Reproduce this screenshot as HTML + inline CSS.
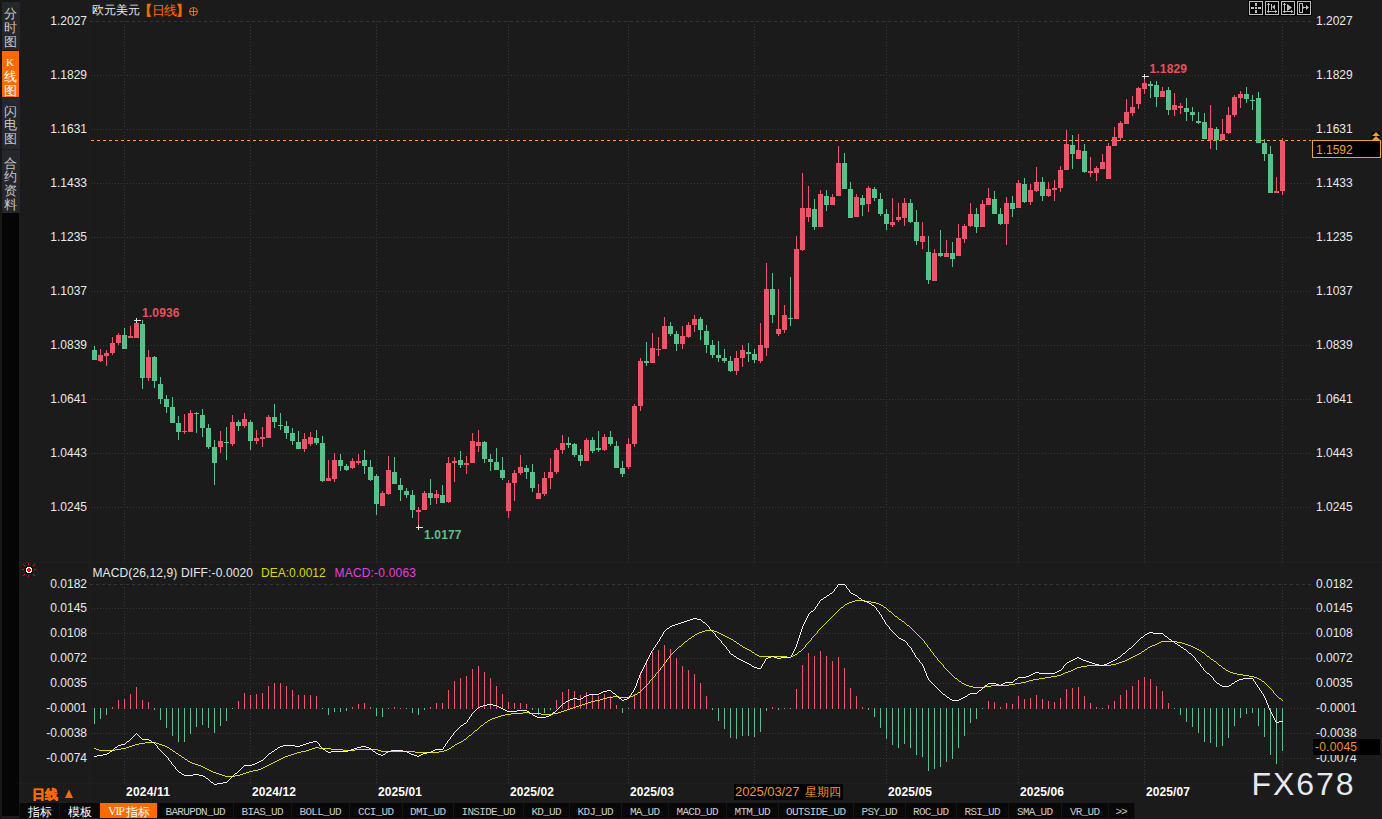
<!DOCTYPE html>
<html><head><meta charset="utf-8"><style>
html,body{margin:0;padding:0;background:#1b1b1b;width:1382px;height:819px;overflow:hidden;}
svg{position:absolute;left:0;top:0;}
text{font-family:"Liberation Sans", sans-serif;}
</style></head><body>
<svg width="1382" height="819" viewBox="0 0 1382 819">
<rect x="0" y="0" width="1382" height="819" fill="#1b1b1b"/>

<g shape-rendering="crispEdges">
<rect x="0" y="0" width="2" height="819" fill="#171717"/>
<rect x="0" y="0" width="20" height="2" fill="#171717"/>
<rect x="2" y="213" width="17" height="603" fill="#050505"/>
<rect x="2" y="2" width="18" height="48" fill="#25272b"/>
<rect x="2" y="51" width="17" height="46" fill="#ff6a00"/>
<rect x="2" y="98" width="18" height="51" fill="#25272b"/>
<rect x="2" y="150" width="18" height="63" fill="#25272b"/>
<rect x="2" y="50" width="18" height="1" fill="#141414"/>
</g>
<text x="10.5" y="17.5" font-size="13" fill="#c8c8c8" text-anchor="middle">分</text><text x="10.5" y="31.5" font-size="13" fill="#c8c8c8" text-anchor="middle">时</text><text x="10.5" y="45.5" font-size="13" fill="#c8c8c8" text-anchor="middle">图</text>
<text x="10" y="66" font-size="11" fill="#ffffff" text-anchor="middle" style="font-family:'Liberation Serif',serif">K</text>
<text x="10.5" y="80.5" font-size="13" fill="#ffffff" text-anchor="middle">线</text><text x="10.5" y="94.5" font-size="13" fill="#ffffff" text-anchor="middle">图</text>
<text x="10.5" y="115.5" font-size="13" fill="#c8c8c8" text-anchor="middle">闪</text><text x="10.5" y="129.0" font-size="13" fill="#c8c8c8" text-anchor="middle">电</text><text x="10.5" y="143.0" font-size="13" fill="#c8c8c8" text-anchor="middle">图</text>
<text x="10.5" y="167.5" font-size="13" fill="#c8c8c8" text-anchor="middle">合</text><text x="10.5" y="181.0" font-size="13" fill="#c8c8c8" text-anchor="middle">约</text><text x="10.5" y="195.0" font-size="13" fill="#c8c8c8" text-anchor="middle">资</text><text x="10.5" y="209.0" font-size="13" fill="#c8c8c8" text-anchor="middle">料</text>
<g shape-rendering="crispEdges">
<rect x="89" y="0" width="1" height="803" fill="#1f1f1f"/>
<rect x="19" y="562" width="1363" height="1" fill="#1f1f1f"/>
<rect x="19" y="783" width="1293" height="1" fill="#1f1f1f"/>
<line x1="90" y1="21.5" x2="1311" y2="21.5" stroke="#363636" stroke-width="1" stroke-dasharray="3 3"/>
<line x1="91" y1="75.5" x2="1311" y2="75.5" stroke="#363636" stroke-width="1" stroke-dasharray="1 2"/>
<line x1="91" y1="129.5" x2="1311" y2="129.5" stroke="#363636" stroke-width="1" stroke-dasharray="1 2"/>
<line x1="91" y1="183.5" x2="1311" y2="183.5" stroke="#363636" stroke-width="1" stroke-dasharray="1 2"/>
<line x1="91" y1="237.5" x2="1311" y2="237.5" stroke="#363636" stroke-width="1" stroke-dasharray="1 2"/>
<line x1="91" y1="291.5" x2="1311" y2="291.5" stroke="#363636" stroke-width="1" stroke-dasharray="1 2"/>
<line x1="91" y1="345.5" x2="1311" y2="345.5" stroke="#363636" stroke-width="1" stroke-dasharray="1 2"/>
<line x1="91" y1="399.5" x2="1311" y2="399.5" stroke="#363636" stroke-width="1" stroke-dasharray="1 2"/>
<line x1="91" y1="453.5" x2="1311" y2="453.5" stroke="#363636" stroke-width="1" stroke-dasharray="1 2"/>
<line x1="91" y1="507.5" x2="1311" y2="507.5" stroke="#363636" stroke-width="1" stroke-dasharray="1 2"/>
<line x1="90" y1="584.5" x2="1311" y2="584.5" stroke="#363636" stroke-width="1" stroke-dasharray="3 3"/>
<line x1="91" y1="608.5" x2="1311" y2="608.5" stroke="#363636" stroke-width="1" stroke-dasharray="1 2"/>
<line x1="91" y1="633.5" x2="1311" y2="633.5" stroke="#363636" stroke-width="1" stroke-dasharray="1 2"/>
<line x1="91" y1="658.5" x2="1311" y2="658.5" stroke="#363636" stroke-width="1" stroke-dasharray="1 2"/>
<line x1="91" y1="683.5" x2="1311" y2="683.5" stroke="#363636" stroke-width="1" stroke-dasharray="1 2"/>
<line x1="91" y1="708.5" x2="1311" y2="708.5" stroke="#363636" stroke-width="1" stroke-dasharray="1 2"/>
<line x1="91" y1="733.5" x2="1311" y2="733.5" stroke="#363636" stroke-width="1" stroke-dasharray="1 2"/>
<line x1="91" y1="758.5" x2="1311" y2="758.5" stroke="#363636" stroke-width="1" stroke-dasharray="1 2"/>
<line x1="124.5" y1="21" x2="124.5" y2="562" stroke="#363636" stroke-width="1" stroke-dasharray="1 2"/>
<line x1="124.5" y1="584" x2="124.5" y2="783" stroke="#363636" stroke-width="1" stroke-dasharray="1 2"/>
<line x1="250.5" y1="21" x2="250.5" y2="562" stroke="#363636" stroke-width="1" stroke-dasharray="1 2"/>
<line x1="250.5" y1="584" x2="250.5" y2="783" stroke="#363636" stroke-width="1" stroke-dasharray="1 2"/>
<line x1="376.5" y1="21" x2="376.5" y2="562" stroke="#363636" stroke-width="1" stroke-dasharray="1 2"/>
<line x1="376.5" y1="584" x2="376.5" y2="783" stroke="#363636" stroke-width="1" stroke-dasharray="1 2"/>
<line x1="508.5" y1="21" x2="508.5" y2="562" stroke="#363636" stroke-width="1" stroke-dasharray="1 2"/>
<line x1="508.5" y1="584" x2="508.5" y2="783" stroke="#363636" stroke-width="1" stroke-dasharray="1 2"/>
<line x1="628.5" y1="21" x2="628.5" y2="562" stroke="#363636" stroke-width="1" stroke-dasharray="1 2"/>
<line x1="628.5" y1="584" x2="628.5" y2="783" stroke="#363636" stroke-width="1" stroke-dasharray="1 2"/>
<line x1="754.5" y1="21" x2="754.5" y2="562" stroke="#363636" stroke-width="1" stroke-dasharray="1 2"/>
<line x1="754.5" y1="584" x2="754.5" y2="783" stroke="#363636" stroke-width="1" stroke-dasharray="1 2"/>
<line x1="886.5" y1="21" x2="886.5" y2="562" stroke="#363636" stroke-width="1" stroke-dasharray="1 2"/>
<line x1="886.5" y1="584" x2="886.5" y2="783" stroke="#363636" stroke-width="1" stroke-dasharray="1 2"/>
<line x1="1018.5" y1="21" x2="1018.5" y2="562" stroke="#363636" stroke-width="1" stroke-dasharray="1 2"/>
<line x1="1018.5" y1="584" x2="1018.5" y2="783" stroke="#363636" stroke-width="1" stroke-dasharray="1 2"/>
<line x1="1144.5" y1="21" x2="1144.5" y2="562" stroke="#363636" stroke-width="1" stroke-dasharray="1 2"/>
<line x1="1144.5" y1="584" x2="1144.5" y2="783" stroke="#363636" stroke-width="1" stroke-dasharray="1 2"/>
<line x1="1282.5" y1="21" x2="1282.5" y2="562" stroke="#363636" stroke-width="1" stroke-dasharray="1 2"/>
<line x1="1282.5" y1="584" x2="1282.5" y2="783" stroke="#363636" stroke-width="1" stroke-dasharray="1 2"/>
</g>
<line x1="91" y1="140.5" x2="1311" y2="140.5" stroke="#f0a030" stroke-width="1" stroke-dasharray="3 3" shape-rendering="crispEdges"/>
<g shape-rendering="crispEdges">
<rect x="94" y="346" width="1" height="14" fill="#5bbf8c"/>
<rect x="92" y="350" width="5" height="10" fill="#5bbf8c"/>
<rect x="100" y="349" width="1" height="13" fill="#ec5468"/>
<rect x="98" y="355" width="5" height="6" fill="#ec5468"/>
<rect x="106" y="350" width="1" height="16" fill="#ec5468"/>
<rect x="104" y="353" width="5" height="3" fill="#ec5468"/>
<rect x="112" y="337" width="1" height="18" fill="#ec5468"/>
<rect x="110" y="343" width="5" height="10" fill="#ec5468"/>
<rect x="118" y="333" width="1" height="12" fill="#ec5468"/>
<rect x="116" y="335" width="5" height="8" fill="#ec5468"/>
<rect x="124" y="328" width="1" height="21" fill="#5bbf8c"/>
<rect x="122" y="335" width="5" height="14" fill="#5bbf8c"/>
<rect x="130" y="326" width="1" height="12" fill="#ec5468"/>
<rect x="128" y="336" width="5" height="2" fill="#ec5468"/>
<rect x="136" y="322" width="1" height="16" fill="#ec5468"/>
<rect x="134" y="323" width="5" height="15" fill="#ec5468"/>
<rect x="142" y="320" width="1" height="69" fill="#5bbf8c"/>
<rect x="140" y="324" width="5" height="54" fill="#5bbf8c"/>
<rect x="148" y="350" width="1" height="31" fill="#ec5468"/>
<rect x="146" y="357" width="5" height="21" fill="#ec5468"/>
<rect x="154" y="356" width="1" height="32" fill="#5bbf8c"/>
<rect x="152" y="357" width="5" height="24" fill="#5bbf8c"/>
<rect x="160" y="377" width="1" height="27" fill="#5bbf8c"/>
<rect x="158" y="384" width="5" height="15" fill="#5bbf8c"/>
<rect x="166" y="395" width="1" height="18" fill="#5bbf8c"/>
<rect x="164" y="399" width="5" height="8" fill="#5bbf8c"/>
<rect x="172" y="397" width="1" height="26" fill="#5bbf8c"/>
<rect x="170" y="407" width="5" height="16" fill="#5bbf8c"/>
<rect x="178" y="416" width="1" height="24" fill="#5bbf8c"/>
<rect x="176" y="423" width="5" height="9" fill="#5bbf8c"/>
<rect x="184" y="414" width="1" height="20" fill="#ec5468"/>
<rect x="182" y="431" width="5" height="1" fill="#ec5468"/>
<rect x="190" y="410" width="1" height="22" fill="#ec5468"/>
<rect x="188" y="413" width="5" height="19" fill="#ec5468"/>
<rect x="196" y="412" width="1" height="21" fill="#5bbf8c"/>
<rect x="194" y="413" width="5" height="1" fill="#5bbf8c"/>
<rect x="202" y="409" width="1" height="28" fill="#5bbf8c"/>
<rect x="200" y="415" width="5" height="13" fill="#5bbf8c"/>
<rect x="208" y="424" width="1" height="25" fill="#5bbf8c"/>
<rect x="206" y="428" width="5" height="19" fill="#5bbf8c"/>
<rect x="214" y="440" width="1" height="45" fill="#5bbf8c"/>
<rect x="212" y="447" width="5" height="16" fill="#5bbf8c"/>
<rect x="220" y="431" width="1" height="22" fill="#ec5468"/>
<rect x="218" y="441" width="5" height="6" fill="#ec5468"/>
<rect x="226" y="427" width="1" height="33" fill="#5bbf8c"/>
<rect x="224" y="442" width="5" height="1" fill="#5bbf8c"/>
<rect x="232" y="415" width="1" height="31" fill="#ec5468"/>
<rect x="230" y="422" width="5" height="22" fill="#ec5468"/>
<rect x="238" y="420" width="1" height="11" fill="#5bbf8c"/>
<rect x="236" y="422" width="5" height="4" fill="#5bbf8c"/>
<rect x="244" y="413" width="1" height="15" fill="#ec5468"/>
<rect x="242" y="419" width="5" height="7" fill="#ec5468"/>
<rect x="250" y="420" width="1" height="30" fill="#5bbf8c"/>
<rect x="248" y="422" width="5" height="19" fill="#5bbf8c"/>
<rect x="256" y="430" width="1" height="14" fill="#ec5468"/>
<rect x="254" y="438" width="5" height="3" fill="#ec5468"/>
<rect x="262" y="427" width="1" height="20" fill="#ec5468"/>
<rect x="260" y="437" width="5" height="2" fill="#ec5468"/>
<rect x="268" y="415" width="1" height="23" fill="#ec5468"/>
<rect x="266" y="417" width="5" height="21" fill="#ec5468"/>
<rect x="274" y="404" width="1" height="24" fill="#5bbf8c"/>
<rect x="272" y="417" width="5" height="5" fill="#5bbf8c"/>
<rect x="280" y="413" width="1" height="17" fill="#5bbf8c"/>
<rect x="278" y="425" width="5" height="1" fill="#5bbf8c"/>
<rect x="286" y="421" width="1" height="18" fill="#5bbf8c"/>
<rect x="284" y="426" width="5" height="7" fill="#5bbf8c"/>
<rect x="292" y="428" width="1" height="17" fill="#5bbf8c"/>
<rect x="290" y="433" width="5" height="8" fill="#5bbf8c"/>
<rect x="298" y="431" width="1" height="18" fill="#5bbf8c"/>
<rect x="296" y="442" width="5" height="7" fill="#5bbf8c"/>
<rect x="304" y="433" width="1" height="19" fill="#ec5468"/>
<rect x="302" y="439" width="5" height="10" fill="#ec5468"/>
<rect x="310" y="432" width="1" height="14" fill="#ec5468"/>
<rect x="308" y="437" width="5" height="7" fill="#ec5468"/>
<rect x="316" y="430" width="1" height="15" fill="#5bbf8c"/>
<rect x="314" y="438" width="5" height="5" fill="#5bbf8c"/>
<rect x="322" y="436" width="1" height="46" fill="#5bbf8c"/>
<rect x="320" y="443" width="5" height="38" fill="#5bbf8c"/>
<rect x="328" y="460" width="1" height="21" fill="#ec5468"/>
<rect x="326" y="478" width="5" height="3" fill="#ec5468"/>
<rect x="334" y="453" width="1" height="29" fill="#ec5468"/>
<rect x="332" y="460" width="5" height="19" fill="#ec5468"/>
<rect x="340" y="454" width="1" height="17" fill="#5bbf8c"/>
<rect x="338" y="460" width="5" height="6" fill="#5bbf8c"/>
<rect x="346" y="464" width="1" height="7" fill="#5bbf8c"/>
<rect x="344" y="466" width="5" height="4" fill="#5bbf8c"/>
<rect x="352" y="458" width="1" height="11" fill="#ec5468"/>
<rect x="350" y="461" width="5" height="7" fill="#ec5468"/>
<rect x="358" y="454" width="1" height="11" fill="#ec5468"/>
<rect x="356" y="461" width="5" height="2" fill="#ec5468"/>
<rect x="364" y="450" width="1" height="24" fill="#5bbf8c"/>
<rect x="362" y="460" width="5" height="6" fill="#5bbf8c"/>
<rect x="370" y="460" width="1" height="21" fill="#5bbf8c"/>
<rect x="368" y="467" width="5" height="13" fill="#5bbf8c"/>
<rect x="376" y="474" width="1" height="41" fill="#5bbf8c"/>
<rect x="374" y="476" width="5" height="28" fill="#5bbf8c"/>
<rect x="382" y="491" width="1" height="15" fill="#ec5468"/>
<rect x="380" y="493" width="5" height="13" fill="#ec5468"/>
<rect x="388" y="456" width="1" height="39" fill="#ec5468"/>
<rect x="386" y="470" width="5" height="24" fill="#ec5468"/>
<rect x="394" y="457" width="1" height="27" fill="#5bbf8c"/>
<rect x="392" y="472" width="5" height="12" fill="#5bbf8c"/>
<rect x="400" y="478" width="1" height="23" fill="#5bbf8c"/>
<rect x="398" y="485" width="5" height="5" fill="#5bbf8c"/>
<rect x="406" y="488" width="1" height="10" fill="#5bbf8c"/>
<rect x="404" y="491" width="5" height="4" fill="#5bbf8c"/>
<rect x="412" y="490" width="1" height="28" fill="#5bbf8c"/>
<rect x="410" y="495" width="5" height="15" fill="#5bbf8c"/>
<rect x="418" y="507" width="1" height="20" fill="#ec5468"/>
<rect x="416" y="510" width="5" height="2" fill="#ec5468"/>
<rect x="424" y="491" width="1" height="19" fill="#ec5468"/>
<rect x="422" y="493" width="5" height="17" fill="#ec5468"/>
<rect x="430" y="479" width="1" height="26" fill="#5bbf8c"/>
<rect x="428" y="493" width="5" height="5" fill="#5bbf8c"/>
<rect x="436" y="490" width="1" height="14" fill="#ec5468"/>
<rect x="434" y="494" width="5" height="4" fill="#ec5468"/>
<rect x="442" y="485" width="1" height="18" fill="#5bbf8c"/>
<rect x="440" y="495" width="5" height="8" fill="#5bbf8c"/>
<rect x="448" y="457" width="1" height="46" fill="#ec5468"/>
<rect x="446" y="463" width="5" height="39" fill="#ec5468"/>
<rect x="454" y="457" width="1" height="25" fill="#ec5468"/>
<rect x="452" y="461" width="5" height="2" fill="#ec5468"/>
<rect x="460" y="451" width="1" height="17" fill="#5bbf8c"/>
<rect x="458" y="460" width="5" height="5" fill="#5bbf8c"/>
<rect x="466" y="456" width="1" height="18" fill="#ec5468"/>
<rect x="464" y="463" width="5" height="2" fill="#ec5468"/>
<rect x="472" y="433" width="1" height="30" fill="#ec5468"/>
<rect x="470" y="441" width="5" height="22" fill="#ec5468"/>
<rect x="478" y="430" width="1" height="22" fill="#ec5468"/>
<rect x="476" y="442" width="5" height="4" fill="#ec5468"/>
<rect x="484" y="441" width="1" height="22" fill="#5bbf8c"/>
<rect x="482" y="442" width="5" height="17" fill="#5bbf8c"/>
<rect x="490" y="454" width="1" height="17" fill="#5bbf8c"/>
<rect x="488" y="459" width="5" height="3" fill="#5bbf8c"/>
<rect x="496" y="448" width="1" height="22" fill="#5bbf8c"/>
<rect x="494" y="462" width="5" height="8" fill="#5bbf8c"/>
<rect x="502" y="457" width="1" height="23" fill="#5bbf8c"/>
<rect x="500" y="470" width="5" height="8" fill="#5bbf8c"/>
<rect x="508" y="480" width="1" height="38" fill="#ec5468"/>
<rect x="506" y="483" width="5" height="28" fill="#ec5468"/>
<rect x="514" y="470" width="1" height="31" fill="#ec5468"/>
<rect x="512" y="473" width="5" height="10" fill="#ec5468"/>
<rect x="520" y="455" width="1" height="20" fill="#ec5468"/>
<rect x="518" y="467" width="5" height="6" fill="#ec5468"/>
<rect x="526" y="465" width="1" height="14" fill="#5bbf8c"/>
<rect x="524" y="468" width="5" height="4" fill="#5bbf8c"/>
<rect x="532" y="464" width="1" height="28" fill="#5bbf8c"/>
<rect x="530" y="472" width="5" height="16" fill="#5bbf8c"/>
<rect x="538" y="484" width="1" height="15" fill="#ec5468"/>
<rect x="536" y="493" width="5" height="6" fill="#ec5468"/>
<rect x="544" y="472" width="1" height="24" fill="#ec5468"/>
<rect x="542" y="478" width="5" height="16" fill="#ec5468"/>
<rect x="550" y="458" width="1" height="31" fill="#ec5468"/>
<rect x="548" y="472" width="5" height="6" fill="#ec5468"/>
<rect x="556" y="448" width="1" height="26" fill="#ec5468"/>
<rect x="554" y="450" width="5" height="22" fill="#ec5468"/>
<rect x="562" y="435" width="1" height="19" fill="#ec5468"/>
<rect x="560" y="443" width="5" height="7" fill="#ec5468"/>
<rect x="568" y="437" width="1" height="11" fill="#5bbf8c"/>
<rect x="566" y="443" width="5" height="2" fill="#5bbf8c"/>
<rect x="574" y="443" width="1" height="14" fill="#5bbf8c"/>
<rect x="572" y="444" width="5" height="11" fill="#5bbf8c"/>
<rect x="580" y="449" width="1" height="17" fill="#5bbf8c"/>
<rect x="578" y="455" width="5" height="6" fill="#5bbf8c"/>
<rect x="586" y="438" width="1" height="23" fill="#ec5468"/>
<rect x="584" y="440" width="5" height="21" fill="#ec5468"/>
<rect x="592" y="437" width="1" height="16" fill="#5bbf8c"/>
<rect x="590" y="440" width="5" height="11" fill="#5bbf8c"/>
<rect x="598" y="431" width="1" height="21" fill="#5bbf8c"/>
<rect x="596" y="448" width="5" height="2" fill="#5bbf8c"/>
<rect x="604" y="434" width="1" height="17" fill="#ec5468"/>
<rect x="602" y="437" width="5" height="13" fill="#ec5468"/>
<rect x="610" y="431" width="1" height="15" fill="#5bbf8c"/>
<rect x="608" y="437" width="5" height="7" fill="#5bbf8c"/>
<rect x="616" y="441" width="1" height="27" fill="#5bbf8c"/>
<rect x="614" y="446" width="5" height="22" fill="#5bbf8c"/>
<rect x="622" y="461" width="1" height="16" fill="#5bbf8c"/>
<rect x="620" y="468" width="5" height="6" fill="#5bbf8c"/>
<rect x="628" y="438" width="1" height="31" fill="#ec5468"/>
<rect x="626" y="444" width="5" height="23" fill="#ec5468"/>
<rect x="634" y="404" width="1" height="43" fill="#ec5468"/>
<rect x="632" y="406" width="5" height="38" fill="#ec5468"/>
<rect x="640" y="358" width="1" height="53" fill="#ec5468"/>
<rect x="638" y="361" width="5" height="45" fill="#ec5468"/>
<rect x="646" y="342" width="1" height="24" fill="#5bbf8c"/>
<rect x="644" y="361" width="5" height="2" fill="#5bbf8c"/>
<rect x="652" y="333" width="1" height="30" fill="#ec5468"/>
<rect x="650" y="348" width="5" height="15" fill="#ec5468"/>
<rect x="658" y="337" width="1" height="19" fill="#ec5468"/>
<rect x="656" y="349" width="5" height="1" fill="#ec5468"/>
<rect x="664" y="317" width="1" height="32" fill="#ec5468"/>
<rect x="662" y="326" width="5" height="23" fill="#ec5468"/>
<rect x="670" y="322" width="1" height="14" fill="#5bbf8c"/>
<rect x="668" y="326" width="5" height="8" fill="#5bbf8c"/>
<rect x="676" y="331" width="1" height="20" fill="#5bbf8c"/>
<rect x="674" y="334" width="5" height="10" fill="#5bbf8c"/>
<rect x="682" y="326" width="1" height="23" fill="#ec5468"/>
<rect x="680" y="336" width="5" height="8" fill="#ec5468"/>
<rect x="688" y="322" width="1" height="16" fill="#ec5468"/>
<rect x="686" y="325" width="5" height="12" fill="#ec5468"/>
<rect x="694" y="315" width="1" height="17" fill="#ec5468"/>
<rect x="692" y="319" width="5" height="6" fill="#ec5468"/>
<rect x="700" y="317" width="1" height="23" fill="#5bbf8c"/>
<rect x="698" y="319" width="5" height="11" fill="#5bbf8c"/>
<rect x="706" y="325" width="1" height="28" fill="#5bbf8c"/>
<rect x="704" y="331" width="5" height="14" fill="#5bbf8c"/>
<rect x="712" y="340" width="1" height="18" fill="#5bbf8c"/>
<rect x="710" y="345" width="5" height="10" fill="#5bbf8c"/>
<rect x="718" y="341" width="1" height="21" fill="#5bbf8c"/>
<rect x="716" y="355" width="5" height="3" fill="#5bbf8c"/>
<rect x="724" y="349" width="1" height="14" fill="#5bbf8c"/>
<rect x="722" y="358" width="5" height="3" fill="#5bbf8c"/>
<rect x="730" y="356" width="1" height="16" fill="#5bbf8c"/>
<rect x="728" y="361" width="5" height="10" fill="#5bbf8c"/>
<rect x="736" y="351" width="1" height="24" fill="#ec5468"/>
<rect x="734" y="358" width="5" height="13" fill="#ec5468"/>
<rect x="742" y="345" width="1" height="22" fill="#ec5468"/>
<rect x="740" y="350" width="5" height="8" fill="#ec5468"/>
<rect x="748" y="343" width="1" height="19" fill="#5bbf8c"/>
<rect x="746" y="352" width="5" height="2" fill="#5bbf8c"/>
<rect x="754" y="349" width="1" height="14" fill="#5bbf8c"/>
<rect x="752" y="354" width="5" height="6" fill="#5bbf8c"/>
<rect x="760" y="323" width="1" height="40" fill="#ec5468"/>
<rect x="758" y="345" width="5" height="16" fill="#ec5468"/>
<rect x="766" y="263" width="1" height="93" fill="#ec5468"/>
<rect x="764" y="289" width="5" height="59" fill="#ec5468"/>
<rect x="772" y="273" width="1" height="50" fill="#5bbf8c"/>
<rect x="770" y="289" width="5" height="26" fill="#5bbf8c"/>
<rect x="778" y="289" width="1" height="47" fill="#ec5468"/>
<rect x="776" y="329" width="5" height="5" fill="#ec5468"/>
<rect x="784" y="305" width="1" height="28" fill="#ec5468"/>
<rect x="782" y="315" width="5" height="15" fill="#ec5468"/>
<rect x="790" y="277" width="1" height="49" fill="#5bbf8c"/>
<rect x="788" y="318" width="5" height="1" fill="#5bbf8c"/>
<rect x="796" y="236" width="1" height="83" fill="#ec5468"/>
<rect x="794" y="249" width="5" height="70" fill="#ec5468"/>
<rect x="802" y="173" width="1" height="78" fill="#ec5468"/>
<rect x="800" y="208" width="5" height="42" fill="#ec5468"/>
<rect x="808" y="186" width="1" height="36" fill="#ec5468"/>
<rect x="806" y="208" width="5" height="9" fill="#ec5468"/>
<rect x="814" y="199" width="1" height="31" fill="#5bbf8c"/>
<rect x="812" y="209" width="5" height="18" fill="#5bbf8c"/>
<rect x="820" y="190" width="1" height="37" fill="#ec5468"/>
<rect x="818" y="194" width="5" height="33" fill="#ec5468"/>
<rect x="826" y="190" width="1" height="21" fill="#5bbf8c"/>
<rect x="824" y="196" width="5" height="9" fill="#5bbf8c"/>
<rect x="832" y="194" width="1" height="11" fill="#ec5468"/>
<rect x="830" y="197" width="5" height="8" fill="#ec5468"/>
<rect x="838" y="146" width="1" height="50" fill="#ec5468"/>
<rect x="836" y="163" width="5" height="33" fill="#ec5468"/>
<rect x="844" y="153" width="1" height="36" fill="#5bbf8c"/>
<rect x="842" y="163" width="5" height="26" fill="#5bbf8c"/>
<rect x="850" y="182" width="1" height="36" fill="#5bbf8c"/>
<rect x="848" y="189" width="5" height="29" fill="#5bbf8c"/>
<rect x="856" y="194" width="1" height="23" fill="#ec5468"/>
<rect x="854" y="197" width="5" height="20" fill="#ec5468"/>
<rect x="862" y="195" width="1" height="21" fill="#5bbf8c"/>
<rect x="860" y="198" width="5" height="7" fill="#5bbf8c"/>
<rect x="868" y="186" width="1" height="26" fill="#ec5468"/>
<rect x="866" y="188" width="5" height="16" fill="#ec5468"/>
<rect x="874" y="187" width="1" height="14" fill="#5bbf8c"/>
<rect x="872" y="189" width="5" height="9" fill="#5bbf8c"/>
<rect x="880" y="193" width="1" height="23" fill="#5bbf8c"/>
<rect x="878" y="199" width="5" height="15" fill="#5bbf8c"/>
<rect x="886" y="209" width="1" height="21" fill="#5bbf8c"/>
<rect x="884" y="214" width="5" height="10" fill="#5bbf8c"/>
<rect x="892" y="198" width="1" height="29" fill="#ec5468"/>
<rect x="890" y="222" width="5" height="3" fill="#ec5468"/>
<rect x="898" y="203" width="1" height="19" fill="#ec5468"/>
<rect x="896" y="217" width="5" height="3" fill="#ec5468"/>
<rect x="904" y="198" width="1" height="28" fill="#ec5468"/>
<rect x="902" y="203" width="5" height="15" fill="#ec5468"/>
<rect x="910" y="199" width="1" height="24" fill="#5bbf8c"/>
<rect x="908" y="203" width="5" height="19" fill="#5bbf8c"/>
<rect x="916" y="210" width="1" height="35" fill="#5bbf8c"/>
<rect x="914" y="222" width="5" height="19" fill="#5bbf8c"/>
<rect x="922" y="222" width="1" height="27" fill="#ec5468"/>
<rect x="920" y="236" width="5" height="6" fill="#ec5468"/>
<rect x="928" y="236" width="1" height="48" fill="#5bbf8c"/>
<rect x="926" y="252" width="5" height="28" fill="#5bbf8c"/>
<rect x="934" y="249" width="1" height="32" fill="#ec5468"/>
<rect x="932" y="253" width="5" height="28" fill="#ec5468"/>
<rect x="940" y="230" width="1" height="27" fill="#5bbf8c"/>
<rect x="938" y="253" width="5" height="3" fill="#5bbf8c"/>
<rect x="946" y="240" width="1" height="17" fill="#ec5468"/>
<rect x="944" y="253" width="5" height="4" fill="#ec5468"/>
<rect x="952" y="242" width="1" height="25" fill="#5bbf8c"/>
<rect x="950" y="253" width="5" height="6" fill="#5bbf8c"/>
<rect x="958" y="224" width="1" height="32" fill="#ec5468"/>
<rect x="956" y="238" width="5" height="18" fill="#ec5468"/>
<rect x="964" y="224" width="1" height="19" fill="#ec5468"/>
<rect x="962" y="226" width="5" height="13" fill="#ec5468"/>
<rect x="970" y="203" width="1" height="24" fill="#ec5468"/>
<rect x="968" y="214" width="5" height="12" fill="#ec5468"/>
<rect x="976" y="208" width="1" height="25" fill="#5bbf8c"/>
<rect x="974" y="214" width="5" height="13" fill="#5bbf8c"/>
<rect x="982" y="200" width="1" height="27" fill="#ec5468"/>
<rect x="980" y="204" width="5" height="23" fill="#ec5468"/>
<rect x="988" y="188" width="1" height="17" fill="#ec5468"/>
<rect x="986" y="198" width="5" height="7" fill="#ec5468"/>
<rect x="994" y="191" width="1" height="23" fill="#5bbf8c"/>
<rect x="992" y="199" width="5" height="15" fill="#5bbf8c"/>
<rect x="1000" y="208" width="1" height="17" fill="#5bbf8c"/>
<rect x="998" y="214" width="5" height="10" fill="#5bbf8c"/>
<rect x="1006" y="197" width="1" height="48" fill="#ec5468"/>
<rect x="1004" y="203" width="5" height="21" fill="#ec5468"/>
<rect x="1012" y="196" width="1" height="21" fill="#5bbf8c"/>
<rect x="1010" y="203" width="5" height="6" fill="#5bbf8c"/>
<rect x="1018" y="180" width="1" height="28" fill="#ec5468"/>
<rect x="1016" y="183" width="5" height="25" fill="#ec5468"/>
<rect x="1024" y="178" width="1" height="25" fill="#5bbf8c"/>
<rect x="1022" y="184" width="5" height="18" fill="#5bbf8c"/>
<rect x="1030" y="184" width="1" height="21" fill="#ec5468"/>
<rect x="1028" y="190" width="5" height="12" fill="#ec5468"/>
<rect x="1036" y="167" width="1" height="25" fill="#ec5468"/>
<rect x="1034" y="182" width="5" height="9" fill="#ec5468"/>
<rect x="1042" y="177" width="1" height="24" fill="#5bbf8c"/>
<rect x="1040" y="182" width="5" height="14" fill="#5bbf8c"/>
<rect x="1048" y="182" width="1" height="15" fill="#ec5468"/>
<rect x="1046" y="189" width="5" height="7" fill="#ec5468"/>
<rect x="1054" y="180" width="1" height="21" fill="#ec5468"/>
<rect x="1052" y="188" width="5" height="2" fill="#ec5468"/>
<rect x="1060" y="166" width="1" height="26" fill="#ec5468"/>
<rect x="1058" y="170" width="5" height="18" fill="#ec5468"/>
<rect x="1066" y="130" width="1" height="40" fill="#ec5468"/>
<rect x="1064" y="144" width="5" height="26" fill="#ec5468"/>
<rect x="1072" y="135" width="1" height="34" fill="#5bbf8c"/>
<rect x="1070" y="145" width="5" height="9" fill="#5bbf8c"/>
<rect x="1078" y="134" width="1" height="25" fill="#ec5468"/>
<rect x="1076" y="150" width="5" height="9" fill="#ec5468"/>
<rect x="1084" y="144" width="1" height="29" fill="#5bbf8c"/>
<rect x="1082" y="151" width="5" height="21" fill="#5bbf8c"/>
<rect x="1090" y="157" width="1" height="20" fill="#ec5468"/>
<rect x="1088" y="171" width="5" height="2" fill="#ec5468"/>
<rect x="1096" y="166" width="1" height="15" fill="#ec5468"/>
<rect x="1094" y="168" width="5" height="5" fill="#ec5468"/>
<rect x="1102" y="154" width="1" height="15" fill="#ec5468"/>
<rect x="1100" y="162" width="5" height="7" fill="#ec5468"/>
<rect x="1108" y="143" width="1" height="36" fill="#ec5468"/>
<rect x="1106" y="146" width="5" height="33" fill="#ec5468"/>
<rect x="1114" y="127" width="1" height="19" fill="#ec5468"/>
<rect x="1112" y="137" width="5" height="9" fill="#ec5468"/>
<rect x="1120" y="121" width="1" height="20" fill="#ec5468"/>
<rect x="1118" y="123" width="5" height="15" fill="#ec5468"/>
<rect x="1126" y="99" width="1" height="25" fill="#ec5468"/>
<rect x="1124" y="112" width="5" height="12" fill="#ec5468"/>
<rect x="1132" y="96" width="1" height="20" fill="#ec5468"/>
<rect x="1130" y="107" width="5" height="6" fill="#ec5468"/>
<rect x="1138" y="87" width="1" height="22" fill="#ec5468"/>
<rect x="1136" y="88" width="5" height="16" fill="#ec5468"/>
<rect x="1144" y="76" width="1" height="18" fill="#ec5468"/>
<rect x="1142" y="83" width="5" height="6" fill="#ec5468"/>
<rect x="1150" y="81" width="1" height="17" fill="#5bbf8c"/>
<rect x="1148" y="84" width="5" height="2" fill="#5bbf8c"/>
<rect x="1156" y="81" width="1" height="26" fill="#5bbf8c"/>
<rect x="1154" y="85" width="5" height="12" fill="#5bbf8c"/>
<rect x="1162" y="87" width="1" height="10" fill="#ec5468"/>
<rect x="1160" y="91" width="5" height="6" fill="#ec5468"/>
<rect x="1168" y="87" width="1" height="28" fill="#5bbf8c"/>
<rect x="1166" y="90" width="5" height="20" fill="#5bbf8c"/>
<rect x="1174" y="93" width="1" height="23" fill="#ec5468"/>
<rect x="1172" y="105" width="5" height="5" fill="#ec5468"/>
<rect x="1180" y="103" width="1" height="11" fill="#ec5468"/>
<rect x="1178" y="106" width="5" height="2" fill="#ec5468"/>
<rect x="1186" y="98" width="1" height="23" fill="#5bbf8c"/>
<rect x="1184" y="108" width="5" height="4" fill="#5bbf8c"/>
<rect x="1192" y="107" width="1" height="14" fill="#5bbf8c"/>
<rect x="1190" y="112" width="5" height="3" fill="#5bbf8c"/>
<rect x="1198" y="112" width="1" height="12" fill="#5bbf8c"/>
<rect x="1196" y="121" width="5" height="2" fill="#5bbf8c"/>
<rect x="1204" y="113" width="1" height="26" fill="#5bbf8c"/>
<rect x="1202" y="122" width="5" height="17" fill="#5bbf8c"/>
<rect x="1210" y="105" width="1" height="44" fill="#ec5468"/>
<rect x="1208" y="128" width="5" height="12" fill="#ec5468"/>
<rect x="1216" y="127" width="1" height="23" fill="#5bbf8c"/>
<rect x="1214" y="129" width="5" height="11" fill="#5bbf8c"/>
<rect x="1222" y="119" width="1" height="21" fill="#ec5468"/>
<rect x="1220" y="134" width="5" height="6" fill="#ec5468"/>
<rect x="1228" y="107" width="1" height="27" fill="#ec5468"/>
<rect x="1226" y="115" width="5" height="18" fill="#ec5468"/>
<rect x="1234" y="95" width="1" height="22" fill="#ec5468"/>
<rect x="1232" y="97" width="5" height="18" fill="#ec5468"/>
<rect x="1240" y="91" width="1" height="17" fill="#ec5468"/>
<rect x="1238" y="94" width="5" height="4" fill="#ec5468"/>
<rect x="1246" y="87" width="1" height="16" fill="#5bbf8c"/>
<rect x="1244" y="94" width="5" height="5" fill="#5bbf8c"/>
<rect x="1252" y="95" width="1" height="15" fill="#5bbf8c"/>
<rect x="1250" y="100" width="5" height="1" fill="#5bbf8c"/>
<rect x="1258" y="92" width="1" height="51" fill="#5bbf8c"/>
<rect x="1256" y="98" width="5" height="45" fill="#5bbf8c"/>
<rect x="1264" y="139" width="1" height="22" fill="#5bbf8c"/>
<rect x="1262" y="143" width="5" height="11" fill="#5bbf8c"/>
<rect x="1270" y="146" width="1" height="47" fill="#5bbf8c"/>
<rect x="1268" y="154" width="5" height="39" fill="#5bbf8c"/>
<rect x="1276" y="177" width="1" height="16" fill="#ec5468"/>
<rect x="1274" y="191" width="5" height="2" fill="#ec5468"/>
<rect x="1282" y="138" width="1" height="57" fill="#ec5468"/>
<rect x="1280" y="141" width="5" height="50" fill="#ec5468"/>
</g>
<g shape-rendering="crispEdges">
<rect x="94" y="708" width="1" height="16" fill="#5bbf8c"/>
<rect x="100" y="708" width="1" height="11" fill="#5bbf8c"/>
<rect x="106" y="708" width="1" height="7" fill="#5bbf8c"/>
<rect x="112" y="707" width="1" height="2" fill="#ec5468"/>
<rect x="118" y="700" width="1" height="9" fill="#ec5468"/>
<rect x="124" y="699" width="1" height="10" fill="#ec5468"/>
<rect x="130" y="694" width="1" height="15" fill="#ec5468"/>
<rect x="136" y="687" width="1" height="22" fill="#ec5468"/>
<rect x="142" y="700" width="1" height="9" fill="#ec5468"/>
<rect x="148" y="702" width="1" height="7" fill="#ec5468"/>
<rect x="154" y="708" width="1" height="2" fill="#5bbf8c"/>
<rect x="160" y="708" width="1" height="12" fill="#5bbf8c"/>
<rect x="166" y="708" width="1" height="20" fill="#5bbf8c"/>
<rect x="172" y="708" width="1" height="28" fill="#5bbf8c"/>
<rect x="178" y="708" width="1" height="34" fill="#5bbf8c"/>
<rect x="184" y="708" width="1" height="34" fill="#5bbf8c"/>
<rect x="190" y="708" width="1" height="26" fill="#5bbf8c"/>
<rect x="196" y="708" width="1" height="19" fill="#5bbf8c"/>
<rect x="202" y="708" width="1" height="17" fill="#5bbf8c"/>
<rect x="208" y="708" width="1" height="20" fill="#5bbf8c"/>
<rect x="214" y="708" width="1" height="25" fill="#5bbf8c"/>
<rect x="220" y="708" width="1" height="18" fill="#5bbf8c"/>
<rect x="226" y="708" width="1" height="13" fill="#5bbf8c"/>
<rect x="232" y="708" width="1" height="1" fill="#5bbf8c"/>
<rect x="238" y="701" width="1" height="8" fill="#ec5468"/>
<rect x="244" y="693" width="1" height="16" fill="#ec5468"/>
<rect x="250" y="695" width="1" height="14" fill="#ec5468"/>
<rect x="256" y="694" width="1" height="15" fill="#ec5468"/>
<rect x="262" y="693" width="1" height="16" fill="#ec5468"/>
<rect x="268" y="686" width="1" height="23" fill="#ec5468"/>
<rect x="274" y="683" width="1" height="26" fill="#ec5468"/>
<rect x="280" y="683" width="1" height="26" fill="#ec5468"/>
<rect x="286" y="686" width="1" height="23" fill="#ec5468"/>
<rect x="292" y="690" width="1" height="19" fill="#ec5468"/>
<rect x="298" y="695" width="1" height="14" fill="#ec5468"/>
<rect x="304" y="695" width="1" height="14" fill="#ec5468"/>
<rect x="310" y="695" width="1" height="14" fill="#ec5468"/>
<rect x="316" y="696" width="1" height="13" fill="#ec5468"/>
<rect x="322" y="708" width="1" height="1" fill="#5bbf8c"/>
<rect x="328" y="708" width="1" height="7" fill="#5bbf8c"/>
<rect x="334" y="708" width="1" height="4" fill="#5bbf8c"/>
<rect x="340" y="708" width="1" height="4" fill="#5bbf8c"/>
<rect x="346" y="708" width="1" height="3" fill="#5bbf8c"/>
<rect x="352" y="707" width="1" height="2" fill="#ec5468"/>
<rect x="358" y="704" width="1" height="5" fill="#ec5468"/>
<rect x="364" y="703" width="1" height="6" fill="#ec5468"/>
<rect x="370" y="707" width="1" height="2" fill="#ec5468"/>
<rect x="376" y="708" width="1" height="8" fill="#5bbf8c"/>
<rect x="382" y="708" width="1" height="9" fill="#5bbf8c"/>
<rect x="388" y="708" width="1" height="1" fill="#5bbf8c"/>
<rect x="394" y="707" width="1" height="2" fill="#ec5468"/>
<rect x="400" y="708" width="1" height="1" fill="#ec5468"/>
<rect x="406" y="708" width="1" height="1" fill="#5bbf8c"/>
<rect x="412" y="708" width="1" height="5" fill="#5bbf8c"/>
<rect x="418" y="708" width="1" height="7" fill="#5bbf8c"/>
<rect x="424" y="708" width="1" height="2" fill="#5bbf8c"/>
<rect x="430" y="707" width="1" height="2" fill="#ec5468"/>
<rect x="436" y="703" width="1" height="6" fill="#ec5468"/>
<rect x="442" y="703" width="1" height="6" fill="#ec5468"/>
<rect x="448" y="690" width="1" height="19" fill="#ec5468"/>
<rect x="454" y="681" width="1" height="28" fill="#ec5468"/>
<rect x="460" y="678" width="1" height="31" fill="#ec5468"/>
<rect x="466" y="676" width="1" height="33" fill="#ec5468"/>
<rect x="472" y="669" width="1" height="40" fill="#ec5468"/>
<rect x="478" y="666" width="1" height="43" fill="#ec5468"/>
<rect x="484" y="672" width="1" height="37" fill="#ec5468"/>
<rect x="490" y="678" width="1" height="31" fill="#ec5468"/>
<rect x="496" y="686" width="1" height="23" fill="#ec5468"/>
<rect x="502" y="694" width="1" height="15" fill="#ec5468"/>
<rect x="508" y="702" width="1" height="7" fill="#ec5468"/>
<rect x="514" y="703" width="1" height="6" fill="#ec5468"/>
<rect x="520" y="703" width="1" height="6" fill="#ec5468"/>
<rect x="526" y="704" width="1" height="5" fill="#ec5468"/>
<rect x="532" y="708" width="1" height="2" fill="#5bbf8c"/>
<rect x="538" y="708" width="1" height="7" fill="#5bbf8c"/>
<rect x="544" y="708" width="1" height="5" fill="#5bbf8c"/>
<rect x="550" y="708" width="1" height="2" fill="#5bbf8c"/>
<rect x="556" y="700" width="1" height="9" fill="#ec5468"/>
<rect x="562" y="692" width="1" height="17" fill="#ec5468"/>
<rect x="568" y="689" width="1" height="20" fill="#ec5468"/>
<rect x="574" y="691" width="1" height="18" fill="#ec5468"/>
<rect x="580" y="695" width="1" height="14" fill="#ec5468"/>
<rect x="586" y="692" width="1" height="17" fill="#ec5468"/>
<rect x="592" y="694" width="1" height="15" fill="#ec5468"/>
<rect x="598" y="696" width="1" height="13" fill="#ec5468"/>
<rect x="604" y="694" width="1" height="15" fill="#ec5468"/>
<rect x="610" y="696" width="1" height="13" fill="#ec5468"/>
<rect x="616" y="705" width="1" height="4" fill="#ec5468"/>
<rect x="622" y="708" width="1" height="5" fill="#5bbf8c"/>
<rect x="628" y="708" width="1" height="1" fill="#5bbf8c"/>
<rect x="634" y="694" width="1" height="15" fill="#ec5468"/>
<rect x="640" y="672" width="1" height="37" fill="#ec5468"/>
<rect x="646" y="660" width="1" height="49" fill="#ec5468"/>
<rect x="652" y="652" width="1" height="57" fill="#ec5468"/>
<rect x="658" y="650" width="1" height="59" fill="#ec5468"/>
<rect x="664" y="645" width="1" height="64" fill="#ec5468"/>
<rect x="670" y="649" width="1" height="60" fill="#ec5468"/>
<rect x="676" y="658" width="1" height="51" fill="#ec5468"/>
<rect x="682" y="666" width="1" height="43" fill="#ec5468"/>
<rect x="688" y="670" width="1" height="39" fill="#ec5468"/>
<rect x="694" y="674" width="1" height="35" fill="#ec5468"/>
<rect x="700" y="683" width="1" height="26" fill="#ec5468"/>
<rect x="706" y="696" width="1" height="13" fill="#ec5468"/>
<rect x="712" y="708" width="1" height="2" fill="#5bbf8c"/>
<rect x="718" y="708" width="1" height="13" fill="#5bbf8c"/>
<rect x="724" y="708" width="1" height="21" fill="#5bbf8c"/>
<rect x="730" y="708" width="1" height="30" fill="#5bbf8c"/>
<rect x="736" y="708" width="1" height="31" fill="#5bbf8c"/>
<rect x="742" y="708" width="1" height="28" fill="#5bbf8c"/>
<rect x="748" y="708" width="1" height="28" fill="#5bbf8c"/>
<rect x="754" y="708" width="1" height="29" fill="#5bbf8c"/>
<rect x="760" y="708" width="1" height="24" fill="#5bbf8c"/>
<rect x="766" y="708" width="1" height="3" fill="#5bbf8c"/>
<rect x="772" y="707" width="1" height="2" fill="#ec5468"/>
<rect x="778" y="708" width="1" height="2" fill="#5bbf8c"/>
<rect x="784" y="708" width="1" height="1" fill="#5bbf8c"/>
<rect x="790" y="708" width="1" height="1" fill="#5bbf8c"/>
<rect x="796" y="689" width="1" height="20" fill="#ec5468"/>
<rect x="802" y="665" width="1" height="44" fill="#ec5468"/>
<rect x="808" y="653" width="1" height="56" fill="#ec5468"/>
<rect x="814" y="656" width="1" height="53" fill="#ec5468"/>
<rect x="820" y="651" width="1" height="58" fill="#ec5468"/>
<rect x="826" y="656" width="1" height="53" fill="#ec5468"/>
<rect x="832" y="661" width="1" height="48" fill="#ec5468"/>
<rect x="838" y="657" width="1" height="52" fill="#ec5468"/>
<rect x="844" y="668" width="1" height="41" fill="#ec5468"/>
<rect x="850" y="688" width="1" height="21" fill="#ec5468"/>
<rect x="856" y="696" width="1" height="13" fill="#ec5468"/>
<rect x="862" y="707" width="1" height="2" fill="#ec5468"/>
<rect x="868" y="708" width="1" height="2" fill="#5bbf8c"/>
<rect x="874" y="708" width="1" height="9" fill="#5bbf8c"/>
<rect x="880" y="708" width="1" height="20" fill="#5bbf8c"/>
<rect x="886" y="708" width="1" height="31" fill="#5bbf8c"/>
<rect x="892" y="708" width="1" height="37" fill="#5bbf8c"/>
<rect x="898" y="708" width="1" height="40" fill="#5bbf8c"/>
<rect x="904" y="708" width="1" height="36" fill="#5bbf8c"/>
<rect x="910" y="708" width="1" height="40" fill="#5bbf8c"/>
<rect x="916" y="708" width="1" height="47" fill="#5bbf8c"/>
<rect x="922" y="708" width="1" height="49" fill="#5bbf8c"/>
<rect x="928" y="708" width="1" height="63" fill="#5bbf8c"/>
<rect x="934" y="708" width="1" height="61" fill="#5bbf8c"/>
<rect x="940" y="708" width="1" height="59" fill="#5bbf8c"/>
<rect x="946" y="708" width="1" height="54" fill="#5bbf8c"/>
<rect x="952" y="708" width="1" height="51" fill="#5bbf8c"/>
<rect x="958" y="708" width="1" height="40" fill="#5bbf8c"/>
<rect x="964" y="708" width="1" height="28" fill="#5bbf8c"/>
<rect x="970" y="708" width="1" height="15" fill="#5bbf8c"/>
<rect x="976" y="708" width="1" height="11" fill="#5bbf8c"/>
<rect x="982" y="708" width="1" height="1" fill="#5bbf8c"/>
<rect x="988" y="701" width="1" height="8" fill="#ec5468"/>
<rect x="994" y="702" width="1" height="7" fill="#ec5468"/>
<rect x="1000" y="707" width="1" height="2" fill="#ec5468"/>
<rect x="1006" y="703" width="1" height="6" fill="#ec5468"/>
<rect x="1012" y="704" width="1" height="5" fill="#ec5468"/>
<rect x="1018" y="696" width="1" height="13" fill="#ec5468"/>
<rect x="1024" y="699" width="1" height="10" fill="#ec5468"/>
<rect x="1030" y="698" width="1" height="11" fill="#ec5468"/>
<rect x="1036" y="695" width="1" height="14" fill="#ec5468"/>
<rect x="1042" y="699" width="1" height="10" fill="#ec5468"/>
<rect x="1048" y="701" width="1" height="8" fill="#ec5468"/>
<rect x="1054" y="702" width="1" height="7" fill="#ec5468"/>
<rect x="1060" y="698" width="1" height="11" fill="#ec5468"/>
<rect x="1066" y="689" width="1" height="20" fill="#ec5468"/>
<rect x="1072" y="688" width="1" height="21" fill="#ec5468"/>
<rect x="1078" y="687" width="1" height="22" fill="#ec5468"/>
<rect x="1084" y="696" width="1" height="13" fill="#ec5468"/>
<rect x="1090" y="703" width="1" height="6" fill="#ec5468"/>
<rect x="1096" y="707" width="1" height="2" fill="#ec5468"/>
<rect x="1102" y="708" width="1" height="1" fill="#5bbf8c"/>
<rect x="1108" y="705" width="1" height="4" fill="#ec5468"/>
<rect x="1114" y="701" width="1" height="8" fill="#ec5468"/>
<rect x="1120" y="695" width="1" height="14" fill="#ec5468"/>
<rect x="1126" y="690" width="1" height="19" fill="#ec5468"/>
<rect x="1132" y="686" width="1" height="23" fill="#ec5468"/>
<rect x="1138" y="680" width="1" height="29" fill="#ec5468"/>
<rect x="1144" y="677" width="1" height="32" fill="#ec5468"/>
<rect x="1150" y="679" width="1" height="30" fill="#ec5468"/>
<rect x="1156" y="686" width="1" height="23" fill="#ec5468"/>
<rect x="1162" y="691" width="1" height="18" fill="#ec5468"/>
<rect x="1168" y="703" width="1" height="6" fill="#ec5468"/>
<rect x="1174" y="708" width="1" height="1" fill="#5bbf8c"/>
<rect x="1180" y="708" width="1" height="7" fill="#5bbf8c"/>
<rect x="1186" y="708" width="1" height="14" fill="#5bbf8c"/>
<rect x="1192" y="708" width="1" height="19" fill="#5bbf8c"/>
<rect x="1198" y="708" width="1" height="25" fill="#5bbf8c"/>
<rect x="1204" y="708" width="1" height="34" fill="#5bbf8c"/>
<rect x="1210" y="708" width="1" height="35" fill="#5bbf8c"/>
<rect x="1216" y="708" width="1" height="39" fill="#5bbf8c"/>
<rect x="1222" y="708" width="1" height="38" fill="#5bbf8c"/>
<rect x="1228" y="708" width="1" height="30" fill="#5bbf8c"/>
<rect x="1234" y="708" width="1" height="18" fill="#5bbf8c"/>
<rect x="1240" y="708" width="1" height="10" fill="#5bbf8c"/>
<rect x="1246" y="708" width="1" height="6" fill="#5bbf8c"/>
<rect x="1252" y="708" width="1" height="5" fill="#5bbf8c"/>
<rect x="1258" y="708" width="1" height="18" fill="#5bbf8c"/>
<rect x="1264" y="708" width="1" height="29" fill="#5bbf8c"/>
<rect x="1270" y="708" width="1" height="47" fill="#5bbf8c"/>
<rect x="1276" y="708" width="1" height="56" fill="#5bbf8c"/>
<rect x="1282" y="708" width="1" height="43" fill="#5bbf8c"/>
</g>
<path fill="#dcdc00" shape-rendering="crispEdges" d="M94 748h1v1h-1zM95 748h1v1h-1zM96 749h1v1h-1zM97 749h1v1h-1zM98 749h1v1h-1zM99 750h1v1h-1zM100 750h1v1h-1zM101 750h1v1h-1zM102 750h1v1h-1zM103 750h1v1h-1zM104 750h1v1h-1zM105 750h1v1h-1zM106 750h1v1h-1zM107 750h1v1h-1zM108 750h1v1h-1zM109 750h1v1h-1zM110 750h1v1h-1zM111 750h1v1h-1zM112 750h1v1h-1zM113 750h1v1h-1zM114 750h1v1h-1zM115 749h1v1h-1zM116 749h1v1h-1zM117 749h1v1h-1zM118 749h1v1h-1zM119 749h1v1h-1zM120 749h1v1h-1zM121 748h1v1h-1zM122 748h1v1h-1zM123 748h1v1h-1zM124 748h1v1h-1zM125 748h1v1h-1zM126 747h1v1h-1zM127 747h1v1h-1zM128 747h1v1h-1zM129 746h1v1h-1zM130 746h1v1h-1zM131 746h1v1h-1zM132 745h1v1h-1zM133 745h1v1h-1zM134 745h1v1h-1zM135 744h1v1h-1zM136 744h1v1h-1zM137 744h1v1h-1zM138 744h1v1h-1zM139 743h1v1h-1zM140 743h1v1h-1zM141 743h1v1h-1zM142 743h1v1h-1zM143 743h1v1h-1zM144 743h1v1h-1zM145 742h1v1h-1zM146 742h1v1h-1zM147 742h1v1h-1zM148 742h1v1h-1zM149 742h1v1h-1zM150 742h1v1h-1zM151 742h1v1h-1zM152 742h1v1h-1zM153 742h1v1h-1zM154 742h1v1h-1zM155 742h1v1h-1zM156 743h1v1h-1zM157 743h1v1h-1zM158 743h1v1h-1zM159 744h1v1h-1zM160 744h1v1h-1zM161 744h1v1h-1zM162 745h1v1h-1zM163 745h1v1h-1zM164 745h1v1h-1zM165 746h1v1h-1zM166 746h1v1h-1zM167 747h1v1h-1zM168 747h1v1h-1zM169 748h1v1h-1zM170 749h1v1h-1zM171 749h1v1h-1zM172 750h1v1h-1zM173 751h1v1h-1zM174 751h1v1h-1zM175 752h1v1h-1zM176 753h1v1h-1zM177 753h1v1h-1zM178 754h1v1h-1zM179 755h1v1h-1zM180 755h1v1h-1zM181 756h1v1h-1zM182 757h1v1h-1zM183 757h1v1h-1zM184 758h1v1h-1zM185 759h1v1h-1zM186 759h1v1h-1zM187 760h1v1h-1zM188 761h1v1h-1zM189 761h1v1h-1zM190 762h1v1h-1zM191 762h1v1h-1zM192 763h1v1h-1zM193 763h1v1h-1zM194 763h1v1h-1zM195 764h1v1h-1zM196 764h1v1h-1zM197 764h1v1h-1zM198 765h1v1h-1zM199 765h1v1h-1zM200 765h1v1h-1zM201 766h1v1h-1zM202 766h1v1h-1zM203 767h1v1h-1zM204 767h1v1h-1zM205 768h1v1h-1zM206 768h1v1h-1zM207 769h1v1h-1zM208 769h1v1h-1zM209 770h1v1h-1zM210 770h1v1h-1zM211 771h1v1h-1zM212 771h1v1h-1zM213 772h1v1h-1zM214 772h1v1h-1zM215 772h1v1h-1zM216 773h1v1h-1zM217 773h1v1h-1zM218 773h1v1h-1zM219 774h1v1h-1zM220 774h1v1h-1zM221 774h1v1h-1zM222 775h1v1h-1zM223 775h1v1h-1zM224 775h1v1h-1zM225 776h1v1h-1zM226 776h1v1h-1zM227 776h1v1h-1zM228 776h1v1h-1zM229 776h1v1h-1zM230 776h1v1h-1zM231 776h1v1h-1zM232 776h1v1h-1zM233 776h1v1h-1zM234 776h1v1h-1zM235 775h1v1h-1zM236 775h1v1h-1zM237 775h1v1h-1zM238 775h1v1h-1zM239 775h1v1h-1zM240 774h1v1h-1zM241 774h1v1h-1zM242 774h1v1h-1zM243 773h1v1h-1zM244 773h1v1h-1zM245 773h1v1h-1zM246 772h1v1h-1zM247 772h1v1h-1zM248 772h1v1h-1zM249 771h1v1h-1zM250 771h1v1h-1zM251 771h1v1h-1zM252 771h1v1h-1zM253 770h1v1h-1zM254 770h1v1h-1zM255 770h1v1h-1zM256 770h1v1h-1zM257 770h1v1h-1zM258 769h1v1h-1zM259 769h1v1h-1zM260 769h1v1h-1zM261 768h1v1h-1zM262 768h1v1h-1zM263 767h1v1h-1zM264 767h1v1h-1zM265 766h1v1h-1zM266 766h1v1h-1zM267 765h1v1h-1zM268 765h1v1h-1zM269 764h1v1h-1zM270 764h1v1h-1zM271 763h1v1h-1zM272 763h1v1h-1zM273 762h1v1h-1zM274 762h1v1h-1zM275 761h1v1h-1zM276 761h1v1h-1zM277 760h1v1h-1zM278 760h1v1h-1zM279 759h1v1h-1zM280 759h1v1h-1zM281 758h1v1h-1zM282 758h1v1h-1zM283 757h1v1h-1zM284 757h1v1h-1zM285 756h1v1h-1zM286 756h1v1h-1zM287 756h1v1h-1zM288 755h1v1h-1zM289 755h1v1h-1zM290 755h1v1h-1zM291 754h1v1h-1zM292 754h1v1h-1zM293 754h1v1h-1zM294 753h1v1h-1zM295 753h1v1h-1zM296 753h1v1h-1zM297 752h1v1h-1zM298 752h1v1h-1zM299 752h1v1h-1zM300 752h1v1h-1zM301 751h1v1h-1zM302 751h1v1h-1zM303 751h1v1h-1zM304 751h1v1h-1zM305 751h1v1h-1zM306 750h1v1h-1zM307 750h1v1h-1zM308 750h1v1h-1zM309 749h1v1h-1zM310 749h1v1h-1zM311 749h1v1h-1zM312 748h1v1h-1zM313 748h1v1h-1zM314 748h1v1h-1zM315 747h1v1h-1zM316 747h1v1h-1zM317 747h1v1h-1zM318 747h1v1h-1zM319 748h1v1h-1zM320 748h1v1h-1zM321 748h1v1h-1zM322 748h1v1h-1zM323 748h1v1h-1zM324 748h1v1h-1zM325 748h1v1h-1zM326 748h1v1h-1zM327 748h1v1h-1zM328 748h1v1h-1zM329 748h1v1h-1zM330 748h1v1h-1zM331 749h1v1h-1zM332 749h1v1h-1zM333 749h1v1h-1zM334 749h1v1h-1zM335 749h1v1h-1zM336 749h1v1h-1zM337 749h1v1h-1zM338 749h1v1h-1zM339 749h1v1h-1zM340 749h1v1h-1zM341 749h1v1h-1zM342 749h1v1h-1zM343 750h1v1h-1zM344 750h1v1h-1zM345 750h1v1h-1zM346 750h1v1h-1zM347 750h1v1h-1zM348 750h1v1h-1zM349 750h1v1h-1zM350 750h1v1h-1zM351 750h1v1h-1zM352 750h1v1h-1zM353 750h1v1h-1zM354 750h1v1h-1zM355 749h1v1h-1zM356 749h1v1h-1zM357 749h1v1h-1zM358 749h1v1h-1zM359 749h1v1h-1zM360 749h1v1h-1zM361 749h1v1h-1zM362 749h1v1h-1zM363 749h1v1h-1zM364 749h1v1h-1zM365 749h1v1h-1zM366 749h1v1h-1zM367 749h1v1h-1zM368 749h1v1h-1zM369 749h1v1h-1zM370 749h1v1h-1zM371 749h1v1h-1zM372 749h1v1h-1zM373 749h1v1h-1zM374 749h1v1h-1zM375 749h1v1h-1zM376 749h1v1h-1zM377 749h1v1h-1zM378 750h1v1h-1zM379 750h1v1h-1zM380 750h1v1h-1zM381 751h1v1h-1zM382 751h1v1h-1zM383 751h1v1h-1zM384 751h1v1h-1zM385 751h1v1h-1zM386 751h1v1h-1zM387 751h1v1h-1zM388 751h1v1h-1zM389 751h1v1h-1zM390 751h1v1h-1zM391 751h1v1h-1zM392 751h1v1h-1zM393 751h1v1h-1zM394 751h1v1h-1zM395 751h1v1h-1zM396 751h1v1h-1zM397 751h1v1h-1zM398 751h1v1h-1zM399 751h1v1h-1zM400 751h1v1h-1zM401 751h1v1h-1zM402 751h1v1h-1zM403 751h1v1h-1zM404 751h1v1h-1zM405 751h1v1h-1zM406 751h1v1h-1zM407 751h1v1h-1zM408 751h1v1h-1zM409 751h1v1h-1zM410 751h1v1h-1zM411 751h1v1h-1zM412 751h1v1h-1zM413 751h1v1h-1zM414 751h1v1h-1zM415 752h1v1h-1zM416 752h1v1h-1zM417 752h1v1h-1zM418 752h1v1h-1zM419 752h1v1h-1zM420 752h1v1h-1zM421 752h1v1h-1zM422 752h1v1h-1zM423 752h1v1h-1zM424 752h1v1h-1zM425 752h1v1h-1zM426 752h1v1h-1zM427 752h1v1h-1zM428 752h1v1h-1zM429 752h1v1h-1zM430 752h1v1h-1zM431 752h1v1h-1zM432 752h1v1h-1zM433 752h1v1h-1zM434 752h1v1h-1zM435 752h1v1h-1zM436 752h1v1h-1zM437 752h1v1h-1zM438 752h1v1h-1zM439 751h1v1h-1zM440 751h1v1h-1zM441 751h1v1h-1zM442 751h1v1h-1zM443 751h1v1h-1zM444 750h1v1h-1zM445 750h1v1h-1zM446 750h1v1h-1zM447 749h1v1h-1zM448 749h1v1h-1zM449 748h1v1h-1zM450 748h1v1h-1zM451 747h1v1h-1zM452 746h1v1h-1zM453 746h1v1h-1zM454 745h1v1h-1zM455 744h1v1h-1zM456 744h1v1h-1zM457 743h1v1h-1zM458 743h1v1h-1zM459 742h1v1h-1zM460 742h1v1h-1zM461 741h1v1h-1zM462 741h1v1h-1zM463 740h1v1h-1zM464 739h1v1h-1zM465 739h1v1h-1zM466 738h1v1h-1zM467 737h1v1h-1zM468 736h1v1h-1zM469 735h1v1h-1zM470 735h1v1h-1zM471 734h1v1h-1zM472 733h1v1h-1zM473 732h1v1h-1zM474 731h1v1h-1zM475 730h1v1h-1zM476 730h1v1h-1zM477 729h1v1h-1zM478 728h1v1h-1zM479 727h1v1h-1zM480 726h1v1h-1zM481 725h1v1h-1zM482 725h1v1h-1zM483 724h1v1h-1zM484 723h1v1h-1zM485 722h1v1h-1zM486 722h1v1h-1zM487 721h1v1h-1zM488 720h1v1h-1zM489 720h1v1h-1zM490 719h1v1h-1zM491 719h1v1h-1zM492 718h1v1h-1zM493 718h1v1h-1zM494 718h1v1h-1zM495 717h1v1h-1zM496 717h1v1h-1zM497 717h1v1h-1zM498 716h1v1h-1zM499 716h1v1h-1zM500 716h1v1h-1zM501 715h1v1h-1zM502 715h1v1h-1zM503 715h1v1h-1zM504 715h1v1h-1zM505 714h1v1h-1zM506 714h1v1h-1zM507 714h1v1h-1zM508 714h1v1h-1zM509 714h1v1h-1zM510 714h1v1h-1zM511 713h1v1h-1zM512 713h1v1h-1zM513 713h1v1h-1zM514 713h1v1h-1zM515 713h1v1h-1zM516 713h1v1h-1zM517 713h1v1h-1zM518 713h1v1h-1zM519 713h1v1h-1zM520 713h1v1h-1zM521 713h1v1h-1zM522 713h1v1h-1zM523 712h1v1h-1zM524 712h1v1h-1zM525 712h1v1h-1zM526 712h1v1h-1zM527 712h1v1h-1zM528 712h1v1h-1zM529 713h1v1h-1zM530 713h1v1h-1zM531 713h1v1h-1zM532 713h1v1h-1zM533 713h1v1h-1zM534 713h1v1h-1zM535 713h1v1h-1zM536 713h1v1h-1zM537 713h1v1h-1zM538 713h1v1h-1zM539 713h1v1h-1zM540 713h1v1h-1zM541 714h1v1h-1zM542 714h1v1h-1zM543 714h1v1h-1zM544 714h1v1h-1zM545 714h1v1h-1zM546 714h1v1h-1zM547 714h1v1h-1zM548 714h1v1h-1zM549 714h1v1h-1zM550 714h1v1h-1zM551 714h1v1h-1zM552 714h1v1h-1zM553 713h1v1h-1zM554 713h1v1h-1zM555 713h1v1h-1zM556 713h1v1h-1zM557 713h1v1h-1zM558 712h1v1h-1zM559 712h1v1h-1zM560 712h1v1h-1zM561 711h1v1h-1zM562 711h1v1h-1zM563 711h1v1h-1zM564 710h1v1h-1zM565 710h1v1h-1zM566 710h1v1h-1zM567 709h1v1h-1zM568 709h1v1h-1zM569 709h1v1h-1zM570 708h1v1h-1zM571 708h1v1h-1zM572 708h1v1h-1zM573 707h1v1h-1zM574 707h1v1h-1zM575 707h1v1h-1zM576 706h1v1h-1zM577 706h1v1h-1zM578 706h1v1h-1zM579 705h1v1h-1zM580 705h1v1h-1zM581 705h1v1h-1zM582 704h1v1h-1zM583 704h1v1h-1zM584 704h1v1h-1zM585 703h1v1h-1zM586 703h1v1h-1zM587 703h1v1h-1zM588 702h1v1h-1zM589 702h1v1h-1zM590 702h1v1h-1zM591 701h1v1h-1zM592 701h1v1h-1zM593 701h1v1h-1zM594 701h1v1h-1zM595 700h1v1h-1zM596 700h1v1h-1zM597 700h1v1h-1zM598 700h1v1h-1zM599 700h1v1h-1zM600 699h1v1h-1zM601 699h1v1h-1zM602 699h1v1h-1zM603 698h1v1h-1zM604 698h1v1h-1zM605 698h1v1h-1zM606 698h1v1h-1zM607 697h1v1h-1zM608 697h1v1h-1zM609 697h1v1h-1zM610 697h1v1h-1zM611 697h1v1h-1zM612 697h1v1h-1zM613 696h1v1h-1zM614 696h1v1h-1zM615 696h1v1h-1zM616 696h1v1h-1zM617 696h1v1h-1zM618 696h1v1h-1zM619 697h1v1h-1zM620 697h1v1h-1zM621 697h1v1h-1zM622 697h1v1h-1zM623 697h1v1h-1zM624 697h1v1h-1zM625 697h1v1h-1zM626 697h1v1h-1zM627 697h1v1h-1zM628 697h1v1h-1zM629 697h1v1h-1zM630 696h1v1h-1zM631 696h1v1h-1zM632 696h1v1h-1zM633 695h1v1h-1zM634 695h1v1h-1zM635 694h1v1h-1zM636 694h1v1h-1zM637 693h1v1h-1zM638 692h1v1h-1zM639 692h1v1h-1zM640 691h1v1h-1zM641 690h1v1h-1zM642 689h1v1h-1zM643 688h1v1h-1zM644 687h1v1h-1zM645 686h1v1h-1zM646 685h1v1h-1zM647 684h1v1h-1zM648 683h1v1h-1zM649 681h1v2h-1zM650 680h1v1h-1zM651 679h1v1h-1zM652 678h1v1h-1zM653 677h1v1h-1zM654 676h1v1h-1zM655 674h1v2h-1zM656 673h1v1h-1zM657 672h1v1h-1zM658 671h1v1h-1zM659 670h1v1h-1zM660 668h1v2h-1zM661 667h1v1h-1zM662 666h1v1h-1zM663 664h1v2h-1zM664 663h1v1h-1zM665 662h1v1h-1zM666 660h1v2h-1zM667 659h1v1h-1zM668 658h1v1h-1zM669 656h1v2h-1zM670 655h1v1h-1zM671 654h1v1h-1zM672 653h1v1h-1zM673 652h1v1h-1zM674 651h1v1h-1zM675 650h1v1h-1zM676 649h1v1h-1zM677 648h1v1h-1zM678 647h1v1h-1zM679 646h1v1h-1zM680 646h1v1h-1zM681 645h1v1h-1zM682 644h1v1h-1zM683 643h1v1h-1zM684 642h1v1h-1zM685 641h1v1h-1zM686 641h1v1h-1zM687 640h1v1h-1zM688 639h1v1h-1zM689 638h1v1h-1zM690 638h1v1h-1zM691 637h1v1h-1zM692 636h1v1h-1zM693 636h1v1h-1zM694 635h1v1h-1zM695 634h1v1h-1zM696 634h1v1h-1zM697 633h1v1h-1zM698 633h1v1h-1zM699 632h1v1h-1zM700 632h1v1h-1zM701 632h1v1h-1zM702 631h1v1h-1zM703 631h1v1h-1zM704 631h1v1h-1zM705 630h1v1h-1zM706 630h1v1h-1zM707 630h1v1h-1zM708 630h1v1h-1zM709 630h1v1h-1zM710 630h1v1h-1zM711 630h1v1h-1zM712 630h1v1h-1zM713 630h1v1h-1zM714 631h1v1h-1zM715 631h1v1h-1zM716 631h1v1h-1zM717 632h1v1h-1zM718 632h1v1h-1zM719 633h1v1h-1zM720 633h1v1h-1zM721 634h1v1h-1zM722 634h1v1h-1zM723 635h1v1h-1zM724 635h1v1h-1zM725 636h1v1h-1zM726 636h1v1h-1zM727 637h1v1h-1zM728 637h1v1h-1zM729 638h1v1h-1zM730 638h1v1h-1zM731 639h1v1h-1zM732 639h1v1h-1zM733 640h1v1h-1zM734 641h1v1h-1zM735 641h1v1h-1zM736 642h1v1h-1zM737 643h1v1h-1zM738 643h1v1h-1zM739 644h1v1h-1zM740 645h1v1h-1zM741 645h1v1h-1zM742 646h1v1h-1zM743 647h1v1h-1zM744 647h1v1h-1zM745 648h1v1h-1zM746 648h1v1h-1zM747 649h1v1h-1zM748 649h1v1h-1zM749 650h1v1h-1zM750 650h1v1h-1zM751 651h1v1h-1zM752 652h1v1h-1zM753 652h1v1h-1zM754 653h1v1h-1zM755 654h1v1h-1zM756 654h1v1h-1zM757 655h1v1h-1zM758 655h1v1h-1zM759 656h1v1h-1zM760 656h1v1h-1zM761 656h1v1h-1zM762 656h1v1h-1zM763 656h1v1h-1zM764 656h1v1h-1zM765 656h1v1h-1zM766 656h1v1h-1zM767 656h1v1h-1zM768 656h1v1h-1zM769 656h1v1h-1zM770 656h1v1h-1zM771 656h1v1h-1zM772 656h1v1h-1zM773 656h1v1h-1zM774 656h1v1h-1zM775 656h1v1h-1zM776 656h1v1h-1zM777 656h1v1h-1zM778 656h1v1h-1zM779 656h1v1h-1zM780 656h1v1h-1zM781 656h1v1h-1zM782 656h1v1h-1zM783 656h1v1h-1zM784 656h1v1h-1zM785 656h1v1h-1zM786 656h1v1h-1zM787 657h1v1h-1zM788 657h1v1h-1zM789 657h1v1h-1zM790 657h1v1h-1zM791 656h1v1h-1zM792 656h1v1h-1zM793 655h1v1h-1zM794 655h1v1h-1zM795 654h1v1h-1zM796 654h1v1h-1zM797 653h1v1h-1zM798 652h1v1h-1zM799 651h1v1h-1zM800 651h1v1h-1zM801 650h1v1h-1zM802 649h1v1h-1zM803 648h1v1h-1zM804 647h1v1h-1zM805 645h1v2h-1zM806 644h1v1h-1zM807 643h1v1h-1zM808 642h1v1h-1zM809 641h1v1h-1zM810 640h1v1h-1zM811 638h1v2h-1zM812 637h1v1h-1zM813 636h1v1h-1zM814 635h1v1h-1zM815 634h1v1h-1zM816 633h1v1h-1zM817 631h1v2h-1zM818 630h1v1h-1zM819 629h1v1h-1zM820 628h1v1h-1zM821 627h1v1h-1zM822 626h1v1h-1zM823 625h1v1h-1zM824 624h1v1h-1zM825 623h1v1h-1zM826 622h1v1h-1zM827 621h1v1h-1zM828 620h1v1h-1zM829 619h1v1h-1zM830 618h1v1h-1zM831 617h1v1h-1zM832 616h1v1h-1zM833 615h1v1h-1zM834 614h1v1h-1zM835 613h1v1h-1zM836 612h1v1h-1zM837 611h1v1h-1zM838 610h1v1h-1zM839 609h1v1h-1zM840 608h1v1h-1zM841 607h1v1h-1zM842 607h1v1h-1zM843 606h1v1h-1zM844 605h1v1h-1zM845 604h1v1h-1zM846 604h1v1h-1zM847 603h1v1h-1zM848 603h1v1h-1zM849 602h1v1h-1zM850 602h1v1h-1zM851 602h1v1h-1zM852 601h1v1h-1zM853 601h1v1h-1zM854 601h1v1h-1zM855 600h1v1h-1zM856 600h1v1h-1zM857 600h1v1h-1zM858 600h1v1h-1zM859 600h1v1h-1zM860 600h1v1h-1zM861 600h1v1h-1zM862 600h1v1h-1zM863 600h1v1h-1zM864 600h1v1h-1zM865 601h1v1h-1zM866 601h1v1h-1zM867 601h1v1h-1zM868 601h1v1h-1zM869 601h1v1h-1zM870 601h1v1h-1zM871 602h1v1h-1zM872 602h1v1h-1zM873 602h1v1h-1zM874 602h1v1h-1zM875 602h1v1h-1zM876 603h1v1h-1zM877 603h1v1h-1zM878 603h1v1h-1zM879 604h1v1h-1zM880 604h1v1h-1zM881 605h1v1h-1zM882 605h1v1h-1zM883 606h1v1h-1zM884 607h1v1h-1zM885 607h1v1h-1zM886 608h1v1h-1zM887 609h1v1h-1zM888 610h1v1h-1zM889 611h1v1h-1zM890 611h1v1h-1zM891 612h1v1h-1zM892 613h1v1h-1zM893 614h1v1h-1zM894 615h1v1h-1zM895 616h1v1h-1zM896 616h1v1h-1zM897 617h1v1h-1zM898 618h1v1h-1zM899 619h1v1h-1zM900 619h1v1h-1zM901 620h1v1h-1zM902 621h1v1h-1zM903 621h1v1h-1zM904 622h1v1h-1zM905 623h1v1h-1zM906 624h1v1h-1zM907 625h1v1h-1zM908 625h1v1h-1zM909 626h1v1h-1zM910 627h1v1h-1zM911 628h1v1h-1zM912 629h1v1h-1zM913 630h1v1h-1zM914 631h1v1h-1zM915 632h1v1h-1zM916 633h1v1h-1zM917 634h1v1h-1zM918 635h1v1h-1zM919 636h1v1h-1zM920 637h1v1h-1zM921 638h1v1h-1zM922 639h1v1h-1zM923 640h1v1h-1zM924 641h1v2h-1zM925 643h1v1h-1zM926 644h1v1h-1zM927 645h1v2h-1zM928 647h1v1h-1zM929 648h1v1h-1zM930 649h1v2h-1zM931 651h1v1h-1zM932 652h1v1h-1zM933 653h1v2h-1zM934 655h1v1h-1zM935 656h1v1h-1zM936 657h1v1h-1zM937 658h1v2h-1zM938 660h1v1h-1zM939 661h1v1h-1zM940 662h1v1h-1zM941 663h1v1h-1zM942 664h1v1h-1zM943 665h1v2h-1zM944 667h1v1h-1zM945 668h1v1h-1zM946 669h1v1h-1zM947 670h1v1h-1zM948 671h1v1h-1zM949 672h1v1h-1zM950 673h1v1h-1zM951 674h1v1h-1zM952 675h1v1h-1zM953 676h1v1h-1zM954 677h1v1h-1zM955 678h1v1h-1zM956 678h1v1h-1zM957 679h1v1h-1zM958 680h1v1h-1zM959 681h1v1h-1zM960 681h1v1h-1zM961 682h1v1h-1zM962 683h1v1h-1zM963 683h1v1h-1zM964 684h1v1h-1zM965 684h1v1h-1zM966 685h1v1h-1zM967 685h1v1h-1zM968 685h1v1h-1zM969 686h1v1h-1zM970 686h1v1h-1zM971 686h1v1h-1zM972 686h1v1h-1zM973 687h1v1h-1zM974 687h1v1h-1zM975 687h1v1h-1zM976 687h1v1h-1zM977 687h1v1h-1zM978 687h1v1h-1zM979 687h1v1h-1zM980 687h1v1h-1zM981 687h1v1h-1zM982 687h1v1h-1zM983 687h1v1h-1zM984 687h1v1h-1zM985 686h1v1h-1zM986 686h1v1h-1zM987 686h1v1h-1zM988 686h1v1h-1zM989 686h1v1h-1zM990 686h1v1h-1zM991 685h1v1h-1zM992 685h1v1h-1zM993 685h1v1h-1zM994 685h1v1h-1zM995 685h1v1h-1zM996 685h1v1h-1zM997 685h1v1h-1zM998 685h1v1h-1zM999 685h1v1h-1zM1000 685h1v1h-1zM1001 685h1v1h-1zM1002 685h1v1h-1zM1003 685h1v1h-1zM1004 685h1v1h-1zM1005 685h1v1h-1zM1006 685h1v1h-1zM1007 685h1v1h-1zM1008 685h1v1h-1zM1009 684h1v1h-1zM1010 684h1v1h-1zM1011 684h1v1h-1zM1012 684h1v1h-1zM1013 684h1v1h-1zM1014 684h1v1h-1zM1015 683h1v1h-1zM1016 683h1v1h-1zM1017 683h1v1h-1zM1018 683h1v1h-1zM1019 683h1v1h-1zM1020 683h1v1h-1zM1021 682h1v1h-1zM1022 682h1v1h-1zM1023 682h1v1h-1zM1024 682h1v1h-1zM1025 682h1v1h-1zM1026 681h1v1h-1zM1027 681h1v1h-1zM1028 681h1v1h-1zM1029 680h1v1h-1zM1030 680h1v1h-1zM1031 680h1v1h-1zM1032 680h1v1h-1zM1033 679h1v1h-1zM1034 679h1v1h-1zM1035 679h1v1h-1zM1036 679h1v1h-1zM1037 679h1v1h-1zM1038 679h1v1h-1zM1039 678h1v1h-1zM1040 678h1v1h-1zM1041 678h1v1h-1zM1042 678h1v1h-1zM1043 678h1v1h-1zM1044 678h1v1h-1zM1045 677h1v1h-1zM1046 677h1v1h-1zM1047 677h1v1h-1zM1048 677h1v1h-1zM1049 677h1v1h-1zM1050 677h1v1h-1zM1051 676h1v1h-1zM1052 676h1v1h-1zM1053 676h1v1h-1zM1054 676h1v1h-1zM1055 676h1v1h-1zM1056 676h1v1h-1zM1057 675h1v1h-1zM1058 675h1v1h-1zM1059 675h1v1h-1zM1060 675h1v1h-1zM1061 674h1v1h-1zM1062 674h1v1h-1zM1063 673h1v1h-1zM1064 673h1v1h-1zM1065 672h1v1h-1zM1066 672h1v1h-1zM1067 672h1v1h-1zM1068 671h1v1h-1zM1069 671h1v1h-1zM1070 671h1v1h-1zM1071 670h1v1h-1zM1072 670h1v1h-1zM1073 669h1v1h-1zM1074 669h1v1h-1zM1075 668h1v1h-1zM1076 668h1v1h-1zM1077 667h1v1h-1zM1078 667h1v1h-1zM1079 667h1v1h-1zM1080 667h1v1h-1zM1081 666h1v1h-1zM1082 666h1v1h-1zM1083 666h1v1h-1zM1084 666h1v1h-1zM1085 666h1v1h-1zM1086 666h1v1h-1zM1087 665h1v1h-1zM1088 665h1v1h-1zM1089 665h1v1h-1zM1090 665h1v1h-1zM1091 665h1v1h-1zM1092 665h1v1h-1zM1093 665h1v1h-1zM1094 665h1v1h-1zM1095 665h1v1h-1zM1096 665h1v1h-1zM1097 665h1v1h-1zM1098 665h1v1h-1zM1099 665h1v1h-1zM1100 665h1v1h-1zM1101 665h1v1h-1zM1102 665h1v1h-1zM1103 665h1v1h-1zM1104 665h1v1h-1zM1105 665h1v1h-1zM1106 665h1v1h-1zM1107 665h1v1h-1zM1108 665h1v1h-1zM1109 665h1v1h-1zM1110 665h1v1h-1zM1111 664h1v1h-1zM1112 664h1v1h-1zM1113 664h1v1h-1zM1114 664h1v1h-1zM1115 664h1v1h-1zM1116 663h1v1h-1zM1117 663h1v1h-1zM1118 663h1v1h-1zM1119 662h1v1h-1zM1120 662h1v1h-1zM1121 662h1v1h-1zM1122 661h1v1h-1zM1123 661h1v1h-1zM1124 661h1v1h-1zM1125 660h1v1h-1zM1126 660h1v1h-1zM1127 659h1v1h-1zM1128 659h1v1h-1zM1129 658h1v1h-1zM1130 658h1v1h-1zM1131 657h1v1h-1zM1132 657h1v1h-1zM1133 656h1v1h-1zM1134 656h1v1h-1zM1135 655h1v1h-1zM1136 655h1v1h-1zM1137 654h1v1h-1zM1138 654h1v1h-1zM1139 653h1v1h-1zM1140 653h1v1h-1zM1141 652h1v1h-1zM1142 651h1v1h-1zM1143 651h1v1h-1zM1144 650h1v1h-1zM1145 649h1v1h-1zM1146 649h1v1h-1zM1147 648h1v1h-1zM1148 647h1v1h-1zM1149 647h1v1h-1zM1150 646h1v1h-1zM1151 646h1v1h-1zM1152 645h1v1h-1zM1153 645h1v1h-1zM1154 645h1v1h-1zM1155 644h1v1h-1zM1156 644h1v1h-1zM1157 643h1v1h-1zM1158 643h1v1h-1zM1159 642h1v1h-1zM1160 642h1v1h-1zM1161 641h1v1h-1zM1162 641h1v1h-1zM1163 641h1v1h-1zM1164 641h1v1h-1zM1165 641h1v1h-1zM1166 641h1v1h-1zM1167 641h1v1h-1zM1168 641h1v1h-1zM1169 641h1v1h-1zM1170 641h1v1h-1zM1171 641h1v1h-1zM1172 641h1v1h-1zM1173 641h1v1h-1zM1174 641h1v1h-1zM1175 641h1v1h-1zM1176 641h1v1h-1zM1177 642h1v1h-1zM1178 642h1v1h-1zM1179 642h1v1h-1zM1180 642h1v1h-1zM1181 642h1v1h-1zM1182 643h1v1h-1zM1183 643h1v1h-1zM1184 643h1v1h-1zM1185 644h1v1h-1zM1186 644h1v1h-1zM1187 644h1v1h-1zM1188 645h1v1h-1zM1189 645h1v1h-1zM1190 645h1v1h-1zM1191 646h1v1h-1zM1192 646h1v1h-1zM1193 647h1v1h-1zM1194 647h1v1h-1zM1195 648h1v1h-1zM1196 648h1v1h-1zM1197 649h1v1h-1zM1198 649h1v1h-1zM1199 650h1v1h-1zM1200 650h1v1h-1zM1201 651h1v1h-1zM1202 652h1v1h-1zM1203 652h1v1h-1zM1204 653h1v1h-1zM1205 654h1v1h-1zM1206 655h1v1h-1zM1207 656h1v1h-1zM1208 656h1v1h-1zM1209 657h1v1h-1zM1210 658h1v1h-1zM1211 659h1v1h-1zM1212 659h1v1h-1zM1213 660h1v1h-1zM1214 661h1v1h-1zM1215 661h1v1h-1zM1216 662h1v1h-1zM1217 663h1v1h-1zM1218 664h1v1h-1zM1219 665h1v1h-1zM1220 665h1v1h-1zM1221 666h1v1h-1zM1222 667h1v1h-1zM1223 668h1v1h-1zM1224 668h1v1h-1zM1225 669h1v1h-1zM1226 670h1v1h-1zM1227 670h1v1h-1zM1228 671h1v1h-1zM1229 671h1v1h-1zM1230 672h1v1h-1zM1231 672h1v1h-1zM1232 672h1v1h-1zM1233 673h1v1h-1zM1234 673h1v1h-1zM1235 673h1v1h-1zM1236 673h1v1h-1zM1237 674h1v1h-1zM1238 674h1v1h-1zM1239 674h1v1h-1zM1240 674h1v1h-1zM1241 674h1v1h-1zM1242 674h1v1h-1zM1243 675h1v1h-1zM1244 675h1v1h-1zM1245 675h1v1h-1zM1246 675h1v1h-1zM1247 675h1v1h-1zM1248 675h1v1h-1zM1249 676h1v1h-1zM1250 676h1v1h-1zM1251 676h1v1h-1zM1252 676h1v1h-1zM1253 676h1v1h-1zM1254 677h1v1h-1zM1255 677h1v1h-1zM1256 677h1v1h-1zM1257 678h1v1h-1zM1258 678h1v1h-1zM1259 679h1v1h-1zM1260 679h1v1h-1zM1261 680h1v1h-1zM1262 681h1v1h-1zM1263 681h1v1h-1zM1264 682h1v1h-1zM1265 683h1v1h-1zM1266 684h1v1h-1zM1267 685h1v1h-1zM1268 686h1v1h-1zM1269 687h1v1h-1zM1270 688h1v1h-1zM1271 689h1v1h-1zM1272 690h1v1h-1zM1273 691h1v2h-1zM1274 693h1v1h-1zM1275 694h1v1h-1zM1276 695h1v1h-1zM1277 696h1v1h-1zM1278 697h1v1h-1zM1279 698h1v1h-1zM1280 698h1v1h-1zM1281 699h1v1h-1zM1282 700h1v1h-1z"/>
<path fill="#f0f0f0" shape-rendering="crispEdges" d="M94 756h1v1h-1zM95 756h1v1h-1zM96 756h1v1h-1zM97 755h1v1h-1zM98 755h1v1h-1zM99 755h1v1h-1zM100 755h1v1h-1zM101 755h1v1h-1zM102 755h1v1h-1zM103 754h1v1h-1zM104 754h1v1h-1zM105 754h1v1h-1zM106 754h1v1h-1zM107 753h1v1h-1zM108 753h1v1h-1zM109 752h1v1h-1zM110 751h1v1h-1zM111 751h1v1h-1zM112 750h1v1h-1zM113 749h1v1h-1zM114 748h1v1h-1zM115 747h1v1h-1zM116 747h1v1h-1zM117 746h1v1h-1zM118 745h1v1h-1zM119 745h1v1h-1zM120 745h1v1h-1zM121 744h1v1h-1zM122 744h1v1h-1zM123 744h1v1h-1zM124 744h1v1h-1zM125 743h1v1h-1zM126 742h1v1h-1zM127 741h1v1h-1zM128 741h1v1h-1zM129 740h1v1h-1zM130 739h1v1h-1zM131 738h1v1h-1zM132 737h1v1h-1zM133 736h1v1h-1zM134 735h1v1h-1zM135 734h1v1h-1zM136 733h1v1h-1zM137 734h1v1h-1zM138 735h1v1h-1zM139 736h1v1h-1zM140 737h1v1h-1zM141 738h1v1h-1zM142 739h1v1h-1zM143 739h1v1h-1zM144 739h1v1h-1zM145 739h1v1h-1zM146 739h1v1h-1zM147 739h1v1h-1zM148 739h1v1h-1zM149 740h1v1h-1zM150 740h1v1h-1zM151 741h1v1h-1zM152 742h1v1h-1zM153 742h1v1h-1zM154 743h1v1h-1zM155 744h1v1h-1zM156 745h1v1h-1zM157 746h1v2h-1zM158 748h1v1h-1zM159 749h1v1h-1zM160 750h1v1h-1zM161 751h1v1h-1zM162 752h1v1h-1zM163 753h1v1h-1zM164 754h1v1h-1zM165 755h1v1h-1zM166 756h1v1h-1zM167 757h1v1h-1zM168 758h1v2h-1zM169 760h1v1h-1zM170 761h1v1h-1zM171 762h1v2h-1zM172 764h1v1h-1zM173 765h1v1h-1zM174 766h1v1h-1zM175 767h1v2h-1zM176 769h1v1h-1zM177 770h1v1h-1zM178 771h1v1h-1zM179 772h1v1h-1zM180 772h1v1h-1zM181 773h1v1h-1zM182 774h1v1h-1zM183 774h1v1h-1zM184 775h1v1h-1zM185 775h1v1h-1zM186 775h1v1h-1zM187 775h1v1h-1zM188 775h1v1h-1zM189 775h1v1h-1zM190 775h1v1h-1zM191 775h1v1h-1zM192 775h1v1h-1zM193 774h1v1h-1zM194 774h1v1h-1zM195 774h1v1h-1zM196 774h1v1h-1zM197 774h1v1h-1zM198 774h1v1h-1zM199 775h1v1h-1zM200 775h1v1h-1zM201 775h1v1h-1zM202 775h1v1h-1zM203 776h1v1h-1zM204 776h1v1h-1zM205 777h1v1h-1zM206 778h1v1h-1zM207 778h1v1h-1zM208 779h1v1h-1zM209 780h1v1h-1zM210 781h1v1h-1zM211 782h1v1h-1zM212 782h1v1h-1zM213 783h1v1h-1zM214 784h1v1h-1zM215 784h1v1h-1zM216 784h1v1h-1zM217 783h1v1h-1zM218 783h1v1h-1zM219 783h1v1h-1zM220 783h1v1h-1zM221 783h1v1h-1zM222 783h1v1h-1zM223 782h1v1h-1zM224 782h1v1h-1zM225 782h1v1h-1zM226 782h1v1h-1zM227 781h1v1h-1zM228 780h1v1h-1zM229 779h1v1h-1zM230 778h1v1h-1zM231 777h1v1h-1zM232 776h1v1h-1zM233 775h1v1h-1zM234 774h1v1h-1zM235 773h1v1h-1zM236 773h1v1h-1zM237 772h1v1h-1zM238 771h1v1h-1zM239 770h1v1h-1zM240 769h1v1h-1zM241 768h1v1h-1zM242 767h1v1h-1zM243 766h1v1h-1zM244 765h1v1h-1zM245 765h1v1h-1zM246 765h1v1h-1zM247 765h1v1h-1zM248 765h1v1h-1zM249 765h1v1h-1zM250 765h1v1h-1zM251 765h1v1h-1zM252 764h1v1h-1zM253 764h1v1h-1zM254 764h1v1h-1zM255 763h1v1h-1zM256 763h1v1h-1zM257 762h1v1h-1zM258 762h1v1h-1zM259 761h1v1h-1zM260 761h1v1h-1zM261 760h1v1h-1zM262 760h1v1h-1zM263 759h1v1h-1zM264 758h1v1h-1zM265 757h1v1h-1zM266 756h1v1h-1zM267 755h1v1h-1zM268 754h1v1h-1zM269 753h1v1h-1zM270 753h1v1h-1zM271 752h1v1h-1zM272 751h1v1h-1zM273 751h1v1h-1zM274 750h1v1h-1zM275 749h1v1h-1zM276 749h1v1h-1zM277 748h1v1h-1zM278 747h1v1h-1zM279 747h1v1h-1zM280 746h1v1h-1zM281 746h1v1h-1zM282 746h1v1h-1zM283 745h1v1h-1zM284 745h1v1h-1zM285 745h1v1h-1zM286 745h1v1h-1zM287 745h1v1h-1zM288 745h1v1h-1zM289 745h1v1h-1zM290 745h1v1h-1zM291 745h1v1h-1zM292 745h1v1h-1zM293 745h1v1h-1zM294 745h1v1h-1zM295 746h1v1h-1zM296 746h1v1h-1zM297 746h1v1h-1zM298 746h1v1h-1zM299 746h1v1h-1zM300 745h1v1h-1zM301 745h1v1h-1zM302 745h1v1h-1zM303 744h1v1h-1zM304 744h1v1h-1zM305 744h1v1h-1zM306 743h1v1h-1zM307 743h1v1h-1zM308 743h1v1h-1zM309 742h1v1h-1zM310 742h1v1h-1zM311 742h1v1h-1zM312 742h1v1h-1zM313 741h1v1h-1zM314 741h1v1h-1zM315 741h1v1h-1zM316 741h1v1h-1zM317 742h1v1h-1zM318 743h1v1h-1zM319 744h1v2h-1zM320 746h1v1h-1zM321 747h1v1h-1zM322 748h1v1h-1zM323 749h1v1h-1zM324 749h1v1h-1zM325 750h1v1h-1zM326 751h1v1h-1zM327 751h1v1h-1zM328 752h1v1h-1zM329 752h1v1h-1zM330 752h1v1h-1zM331 751h1v1h-1zM332 751h1v1h-1zM333 751h1v1h-1zM334 751h1v1h-1zM335 751h1v1h-1zM336 751h1v1h-1zM337 751h1v1h-1zM338 751h1v1h-1zM339 751h1v1h-1zM340 751h1v1h-1zM341 751h1v1h-1zM342 751h1v1h-1zM343 751h1v1h-1zM344 751h1v1h-1zM345 751h1v1h-1zM346 751h1v1h-1zM347 751h1v1h-1zM348 750h1v1h-1zM349 750h1v1h-1zM350 750h1v1h-1zM351 749h1v1h-1zM352 749h1v1h-1zM353 749h1v1h-1zM354 748h1v1h-1zM355 748h1v1h-1zM356 748h1v1h-1zM357 747h1v1h-1zM358 747h1v1h-1zM359 747h1v1h-1zM360 747h1v1h-1zM361 746h1v1h-1zM362 746h1v1h-1zM363 746h1v1h-1zM364 746h1v1h-1zM365 746h1v1h-1zM366 747h1v1h-1zM367 747h1v1h-1zM368 747h1v1h-1zM369 748h1v1h-1zM370 748h1v1h-1zM371 749h1v1h-1zM372 750h1v1h-1zM373 751h1v1h-1zM374 751h1v1h-1zM375 752h1v1h-1zM376 753h1v1h-1zM377 753h1v1h-1zM378 754h1v1h-1zM379 754h1v1h-1zM380 754h1v1h-1zM381 755h1v1h-1zM382 755h1v1h-1zM383 754h1v1h-1zM384 754h1v1h-1zM385 753h1v1h-1zM386 752h1v1h-1zM387 752h1v1h-1zM388 751h1v1h-1zM389 751h1v1h-1zM390 751h1v1h-1zM391 750h1v1h-1zM392 750h1v1h-1zM393 750h1v1h-1zM394 750h1v1h-1zM395 750h1v1h-1zM396 750h1v1h-1zM397 750h1v1h-1zM398 750h1v1h-1zM399 750h1v1h-1zM400 750h1v1h-1zM401 750h1v1h-1zM402 750h1v1h-1zM403 751h1v1h-1zM404 751h1v1h-1zM405 751h1v1h-1zM406 751h1v1h-1zM407 752h1v1h-1zM408 752h1v1h-1zM409 753h1v1h-1zM410 753h1v1h-1zM411 754h1v1h-1zM412 754h1v1h-1zM413 754h1v1h-1zM414 755h1v1h-1zM415 755h1v1h-1zM416 755h1v1h-1zM417 756h1v1h-1zM418 756h1v1h-1zM419 755h1v1h-1zM420 755h1v1h-1zM421 754h1v1h-1zM422 754h1v1h-1zM423 753h1v1h-1zM424 753h1v1h-1zM425 753h1v1h-1zM426 753h1v1h-1zM427 752h1v1h-1zM428 752h1v1h-1zM429 752h1v1h-1zM430 752h1v1h-1zM431 751h1v1h-1zM432 751h1v1h-1zM433 750h1v1h-1zM434 750h1v1h-1zM435 749h1v1h-1zM436 749h1v1h-1zM437 749h1v1h-1zM438 749h1v1h-1zM439 749h1v1h-1zM440 749h1v1h-1zM441 749h1v1h-1zM442 749h1v1h-1zM443 747h1v2h-1zM444 746h1v1h-1zM445 744h1v2h-1zM446 743h1v1h-1zM447 741h1v2h-1zM448 740h1v1h-1zM449 739h1v1h-1zM450 737h1v2h-1zM451 736h1v1h-1zM452 735h1v1h-1zM453 733h1v2h-1zM454 732h1v1h-1zM455 731h1v1h-1zM456 730h1v1h-1zM457 729h1v1h-1zM458 728h1v1h-1zM459 727h1v1h-1zM460 726h1v1h-1zM461 725h1v1h-1zM462 725h1v1h-1zM463 724h1v1h-1zM464 723h1v1h-1zM465 723h1v1h-1zM466 722h1v1h-1zM467 720h1v2h-1zM468 719h1v1h-1zM469 717h1v2h-1zM470 716h1v1h-1zM471 714h1v2h-1zM472 713h1v1h-1zM473 712h1v1h-1zM474 711h1v1h-1zM475 710h1v1h-1zM476 709h1v1h-1zM477 708h1v1h-1zM478 707h1v1h-1zM479 707h1v1h-1zM480 706h1v1h-1zM481 706h1v1h-1zM482 706h1v1h-1zM483 705h1v1h-1zM484 705h1v1h-1zM485 705h1v1h-1zM486 705h1v1h-1zM487 704h1v1h-1zM488 704h1v1h-1zM489 704h1v1h-1zM490 704h1v1h-1zM491 704h1v1h-1zM492 704h1v1h-1zM493 705h1v1h-1zM494 705h1v1h-1zM495 705h1v1h-1zM496 705h1v1h-1zM497 706h1v1h-1zM498 706h1v1h-1zM499 707h1v1h-1zM500 707h1v1h-1zM501 708h1v1h-1zM502 708h1v1h-1zM503 709h1v1h-1zM504 709h1v1h-1zM505 710h1v1h-1zM506 710h1v1h-1zM507 711h1v1h-1zM508 711h1v1h-1zM509 711h1v1h-1zM510 711h1v1h-1zM511 711h1v1h-1zM512 711h1v1h-1zM513 711h1v1h-1zM514 711h1v1h-1zM515 711h1v1h-1zM516 711h1v1h-1zM517 710h1v1h-1zM518 710h1v1h-1zM519 710h1v1h-1zM520 710h1v1h-1zM521 710h1v1h-1zM522 710h1v1h-1zM523 710h1v1h-1zM524 710h1v1h-1zM525 710h1v1h-1zM526 710h1v1h-1zM527 711h1v1h-1zM528 711h1v1h-1zM529 712h1v1h-1zM530 713h1v1h-1zM531 713h1v1h-1zM532 714h1v1h-1zM533 715h1v1h-1zM534 715h1v1h-1zM535 716h1v1h-1zM536 716h1v1h-1zM537 717h1v1h-1zM538 717h1v1h-1zM539 717h1v1h-1zM540 717h1v1h-1zM541 717h1v1h-1zM542 717h1v1h-1zM543 717h1v1h-1zM544 717h1v1h-1zM545 717h1v1h-1zM546 716h1v1h-1zM547 716h1v1h-1zM548 716h1v1h-1zM549 715h1v1h-1zM550 715h1v1h-1zM551 714h1v1h-1zM552 713h1v1h-1zM553 712h1v1h-1zM554 712h1v1h-1zM555 711h1v1h-1zM556 710h1v1h-1zM557 709h1v1h-1zM558 708h1v1h-1zM559 707h1v1h-1zM560 706h1v1h-1zM561 705h1v1h-1zM562 704h1v1h-1zM563 703h1v1h-1zM564 703h1v1h-1zM565 702h1v1h-1zM566 701h1v1h-1zM567 701h1v1h-1zM568 700h1v1h-1zM569 700h1v1h-1zM570 699h1v1h-1zM571 699h1v1h-1zM572 699h1v1h-1zM573 698h1v1h-1zM574 698h1v1h-1zM575 698h1v1h-1zM576 698h1v1h-1zM577 699h1v1h-1zM578 699h1v1h-1zM579 699h1v1h-1zM580 699h1v1h-1zM581 698h1v1h-1zM582 698h1v1h-1zM583 697h1v1h-1zM584 696h1v1h-1zM585 696h1v1h-1zM586 695h1v1h-1zM587 695h1v1h-1zM588 695h1v1h-1zM589 694h1v1h-1zM590 694h1v1h-1zM591 694h1v1h-1zM592 694h1v1h-1zM593 694h1v1h-1zM594 694h1v1h-1zM595 694h1v1h-1zM596 694h1v1h-1zM597 694h1v1h-1zM598 694h1v1h-1zM599 693h1v1h-1zM600 693h1v1h-1zM601 692h1v1h-1zM602 692h1v1h-1zM603 691h1v1h-1zM604 691h1v1h-1zM605 691h1v1h-1zM606 691h1v1h-1zM607 690h1v1h-1zM608 690h1v1h-1zM609 690h1v1h-1zM610 690h1v1h-1zM611 691h1v1h-1zM612 692h1v1h-1zM613 693h1v1h-1zM614 693h1v1h-1zM615 694h1v1h-1zM616 695h1v1h-1zM617 696h1v1h-1zM618 697h1v1h-1zM619 698h1v1h-1zM620 698h1v1h-1zM621 699h1v1h-1zM622 700h1v1h-1zM623 700h1v1h-1zM624 699h1v1h-1zM625 699h1v1h-1zM626 699h1v1h-1zM627 698h1v1h-1zM628 698h1v1h-1zM629 696h1v2h-1zM630 695h1v1h-1zM631 693h1v2h-1zM632 692h1v1h-1zM633 690h1v2h-1zM634 688h1v2h-1zM635 686h1v2h-1zM636 683h1v3h-1zM637 680h1v3h-1zM638 678h1v2h-1zM639 675h1v3h-1zM640 673h1v2h-1zM641 671h1v2h-1zM642 669h1v2h-1zM643 667h1v2h-1zM644 665h1v2h-1zM645 663h1v2h-1zM646 661h1v2h-1zM647 659h1v2h-1zM648 657h1v2h-1zM649 655h1v2h-1zM650 653h1v2h-1zM651 651h1v2h-1zM652 650h1v1h-1zM653 648h1v2h-1zM654 647h1v1h-1zM655 645h1v2h-1zM656 644h1v1h-1zM657 642h1v2h-1zM658 641h1v1h-1zM659 639h1v2h-1zM660 637h1v2h-1zM661 636h1v1h-1zM662 634h1v2h-1zM663 632h1v2h-1zM664 631h1v1h-1zM665 630h1v1h-1zM666 629h1v1h-1zM667 628h1v1h-1zM668 628h1v1h-1zM669 627h1v1h-1zM670 626h1v1h-1zM671 626h1v1h-1zM672 625h1v1h-1zM673 625h1v1h-1zM674 625h1v1h-1zM675 624h1v1h-1zM676 624h1v1h-1zM677 624h1v1h-1zM678 623h1v1h-1zM679 623h1v1h-1zM680 623h1v1h-1zM681 622h1v1h-1zM682 622h1v1h-1zM683 622h1v1h-1zM684 621h1v1h-1zM685 621h1v1h-1zM686 621h1v1h-1zM687 620h1v1h-1zM688 620h1v1h-1zM689 620h1v1h-1zM690 619h1v1h-1zM691 619h1v1h-1zM692 619h1v1h-1zM693 618h1v1h-1zM694 618h1v1h-1zM695 618h1v1h-1zM696 618h1v1h-1zM697 619h1v1h-1zM698 619h1v1h-1zM699 619h1v1h-1zM700 619h1v1h-1zM701 620h1v1h-1zM702 621h1v1h-1zM703 622h1v1h-1zM704 622h1v1h-1zM705 623h1v1h-1zM706 624h1v1h-1zM707 625h1v1h-1zM708 626h1v1h-1zM709 627h1v2h-1zM710 629h1v1h-1zM711 630h1v1h-1zM712 631h1v1h-1zM713 632h1v1h-1zM714 633h1v1h-1zM715 634h1v2h-1zM716 636h1v1h-1zM717 637h1v1h-1zM718 638h1v1h-1zM719 639h1v1h-1zM720 640h1v1h-1zM721 641h1v2h-1zM722 643h1v1h-1zM723 644h1v1h-1zM724 645h1v1h-1zM725 646h1v1h-1zM726 647h1v2h-1zM727 649h1v1h-1zM728 650h1v1h-1zM729 651h1v2h-1zM730 653h1v1h-1zM731 654h1v1h-1zM732 654h1v1h-1zM733 655h1v1h-1zM734 656h1v1h-1zM735 656h1v1h-1zM736 657h1v1h-1zM737 658h1v1h-1zM738 658h1v1h-1zM739 659h1v1h-1zM740 659h1v1h-1zM741 660h1v1h-1zM742 660h1v1h-1zM743 661h1v1h-1zM744 661h1v1h-1zM745 662h1v1h-1zM746 662h1v1h-1zM747 663h1v1h-1zM748 663h1v1h-1zM749 664h1v1h-1zM750 664h1v1h-1zM751 665h1v1h-1zM752 666h1v1h-1zM753 666h1v1h-1zM754 667h1v1h-1zM755 667h1v1h-1zM756 667h1v1h-1zM757 668h1v1h-1zM758 668h1v1h-1zM759 668h1v1h-1zM760 668h1v1h-1zM761 666h1v2h-1zM762 664h1v2h-1zM763 663h1v1h-1zM764 661h1v2h-1zM765 659h1v2h-1zM766 658h1v1h-1zM767 658h1v1h-1zM768 657h1v1h-1zM769 657h1v1h-1zM770 657h1v1h-1zM771 656h1v1h-1zM772 656h1v1h-1zM773 656h1v1h-1zM774 657h1v1h-1zM775 657h1v1h-1zM776 657h1v1h-1zM777 658h1v1h-1zM778 658h1v1h-1zM779 658h1v1h-1zM780 658h1v1h-1zM781 657h1v1h-1zM782 657h1v1h-1zM783 657h1v1h-1zM784 657h1v1h-1zM785 657h1v1h-1zM786 657h1v1h-1zM787 657h1v1h-1zM788 657h1v1h-1zM789 657h1v1h-1zM790 657h1v1h-1zM791 655h1v2h-1zM792 653h1v2h-1zM793 651h1v2h-1zM794 649h1v2h-1zM795 647h1v2h-1zM796 644h1v3h-1zM797 641h1v3h-1zM798 638h1v3h-1zM799 635h1v3h-1zM800 632h1v3h-1zM801 629h1v3h-1zM802 626h1v3h-1zM803 624h1v2h-1zM804 622h1v2h-1zM805 620h1v2h-1zM806 618h1v2h-1zM807 616h1v2h-1zM808 614h1v2h-1zM809 613h1v1h-1zM810 612h1v1h-1zM811 611h1v1h-1zM812 611h1v1h-1zM813 610h1v1h-1zM814 609h1v1h-1zM815 607h1v2h-1zM816 606h1v1h-1zM817 604h1v2h-1zM818 603h1v1h-1zM819 601h1v2h-1zM820 600h1v1h-1zM821 599h1v1h-1zM822 599h1v1h-1zM823 598h1v1h-1zM824 597h1v1h-1zM825 597h1v1h-1zM826 596h1v1h-1zM827 595h1v1h-1zM828 595h1v1h-1zM829 594h1v1h-1zM830 593h1v1h-1zM831 593h1v1h-1zM832 592h1v1h-1zM833 591h1v1h-1zM834 589h1v2h-1zM835 588h1v1h-1zM836 587h1v1h-1zM837 585h1v2h-1zM838 584h1v1h-1zM839 584h1v1h-1zM840 584h1v1h-1zM841 584h1v1h-1zM842 584h1v1h-1zM843 584h1v1h-1zM844 584h1v1h-1zM845 585h1v1h-1zM846 586h1v2h-1zM847 588h1v1h-1zM848 589h1v1h-1zM849 590h1v2h-1zM850 592h1v1h-1zM851 593h1v1h-1zM852 593h1v1h-1zM853 594h1v1h-1zM854 594h1v1h-1zM855 595h1v1h-1zM856 595h1v1h-1zM857 596h1v1h-1zM858 597h1v1h-1zM859 598h1v1h-1zM860 598h1v1h-1zM861 599h1v1h-1zM862 600h1v1h-1zM863 600h1v1h-1zM864 601h1v1h-1zM865 601h1v1h-1zM866 601h1v1h-1zM867 602h1v1h-1zM868 602h1v1h-1zM869 603h1v1h-1zM870 603h1v1h-1zM871 604h1v1h-1zM872 605h1v1h-1zM873 605h1v1h-1zM874 606h1v1h-1zM875 607h1v1h-1zM876 608h1v2h-1zM877 610h1v1h-1zM878 611h1v1h-1zM879 612h1v2h-1zM880 614h1v1h-1zM881 615h1v2h-1zM882 617h1v2h-1zM883 619h1v1h-1zM884 620h1v2h-1zM885 622h1v2h-1zM886 624h1v1h-1zM887 625h1v1h-1zM888 626h1v1h-1zM889 627h1v2h-1zM890 629h1v1h-1zM891 630h1v1h-1zM892 631h1v1h-1zM893 632h1v1h-1zM894 633h1v1h-1zM895 634h1v1h-1zM896 635h1v1h-1zM897 636h1v1h-1zM898 637h1v1h-1zM899 638h1v1h-1zM900 638h1v1h-1zM901 639h1v1h-1zM902 639h1v1h-1zM903 640h1v1h-1zM904 640h1v1h-1zM905 641h1v1h-1zM906 642h1v1h-1zM907 643h1v2h-1zM908 645h1v1h-1zM909 646h1v1h-1zM910 647h1v1h-1zM911 648h1v2h-1zM912 650h1v2h-1zM913 652h1v1h-1zM914 653h1v2h-1zM915 655h1v2h-1zM916 657h1v1h-1zM917 658h1v1h-1zM918 659h1v1h-1zM919 660h1v2h-1zM920 662h1v1h-1zM921 663h1v1h-1zM922 664h1v2h-1zM923 666h1v2h-1zM924 668h1v3h-1zM925 671h1v2h-1zM926 673h1v3h-1zM927 676h1v2h-1zM928 678h1v2h-1zM929 680h1v1h-1zM930 681h1v1h-1zM931 682h1v1h-1zM932 683h1v1h-1zM933 684h1v1h-1zM934 685h1v1h-1zM935 686h1v1h-1zM936 687h1v1h-1zM937 688h1v1h-1zM938 689h1v1h-1zM939 690h1v1h-1zM940 691h1v1h-1zM941 692h1v1h-1zM942 693h1v1h-1zM943 694h1v1h-1zM944 694h1v1h-1zM945 695h1v1h-1zM946 696h1v1h-1zM947 697h1v1h-1zM948 697h1v1h-1zM949 698h1v1h-1zM950 699h1v1h-1zM951 699h1v1h-1zM952 700h1v1h-1zM953 700h1v1h-1zM954 700h1v1h-1zM955 700h1v1h-1zM956 700h1v1h-1zM957 700h1v1h-1zM958 700h1v1h-1zM959 699h1v1h-1zM960 699h1v1h-1zM961 698h1v1h-1zM962 698h1v1h-1zM963 697h1v1h-1zM964 697h1v1h-1zM965 696h1v1h-1zM966 696h1v1h-1zM967 695h1v1h-1zM968 694h1v1h-1zM969 694h1v1h-1zM970 693h1v1h-1zM971 693h1v1h-1zM972 693h1v1h-1zM973 693h1v1h-1zM974 693h1v1h-1zM975 693h1v1h-1zM976 693h1v1h-1zM977 692h1v1h-1zM978 691h1v1h-1zM979 690h1v1h-1zM980 690h1v1h-1zM981 689h1v1h-1zM982 688h1v1h-1zM983 687h1v1h-1zM984 686h1v1h-1zM985 685h1v1h-1zM986 685h1v1h-1zM987 684h1v1h-1zM988 683h1v1h-1zM989 683h1v1h-1zM990 683h1v1h-1zM991 683h1v1h-1zM992 683h1v1h-1zM993 683h1v1h-1zM994 683h1v1h-1zM995 683h1v1h-1zM996 684h1v1h-1zM997 684h1v1h-1zM998 684h1v1h-1zM999 685h1v1h-1zM1000 685h1v1h-1zM1001 684h1v1h-1zM1002 684h1v1h-1zM1003 683h1v1h-1zM1004 683h1v1h-1zM1005 682h1v1h-1zM1006 682h1v1h-1zM1007 682h1v1h-1zM1008 682h1v1h-1zM1009 682h1v1h-1zM1010 682h1v1h-1zM1011 682h1v1h-1zM1012 682h1v1h-1zM1013 681h1v1h-1zM1014 680h1v1h-1zM1015 679h1v1h-1zM1016 679h1v1h-1zM1017 678h1v1h-1zM1018 677h1v1h-1zM1019 677h1v1h-1zM1020 677h1v1h-1zM1021 677h1v1h-1zM1022 677h1v1h-1zM1023 677h1v1h-1zM1024 677h1v1h-1zM1025 677h1v1h-1zM1026 676h1v1h-1zM1027 676h1v1h-1zM1028 676h1v1h-1zM1029 675h1v1h-1zM1030 675h1v1h-1zM1031 674h1v1h-1zM1032 674h1v1h-1zM1033 673h1v1h-1zM1034 673h1v1h-1zM1035 672h1v1h-1zM1036 672h1v1h-1zM1037 672h1v1h-1zM1038 672h1v1h-1zM1039 673h1v1h-1zM1040 673h1v1h-1zM1041 673h1v1h-1zM1042 673h1v1h-1zM1043 673h1v1h-1zM1044 673h1v1h-1zM1045 673h1v1h-1zM1046 673h1v1h-1zM1047 673h1v1h-1zM1048 673h1v1h-1zM1049 673h1v1h-1zM1050 673h1v1h-1zM1051 673h1v1h-1zM1052 673h1v1h-1zM1053 673h1v1h-1zM1054 673h1v1h-1zM1055 672h1v1h-1zM1056 672h1v1h-1zM1057 671h1v1h-1zM1058 671h1v1h-1zM1059 670h1v1h-1zM1060 670h1v1h-1zM1061 669h1v1h-1zM1062 668h1v1h-1zM1063 666h1v2h-1zM1064 665h1v1h-1zM1065 664h1v1h-1zM1066 663h1v1h-1zM1067 662h1v1h-1zM1068 662h1v1h-1zM1069 661h1v1h-1zM1070 661h1v1h-1zM1071 660h1v1h-1zM1072 660h1v1h-1zM1073 659h1v1h-1zM1074 659h1v1h-1zM1075 658h1v1h-1zM1076 658h1v1h-1zM1077 657h1v1h-1zM1078 657h1v1h-1zM1079 658h1v1h-1zM1080 658h1v1h-1zM1081 659h1v1h-1zM1082 659h1v1h-1zM1083 660h1v1h-1zM1084 660h1v1h-1zM1085 660h1v1h-1zM1086 661h1v1h-1zM1087 661h1v1h-1zM1088 661h1v1h-1zM1089 662h1v1h-1zM1090 662h1v1h-1zM1091 662h1v1h-1zM1092 663h1v1h-1zM1093 663h1v1h-1zM1094 663h1v1h-1zM1095 664h1v1h-1zM1096 664h1v1h-1zM1097 664h1v1h-1zM1098 664h1v1h-1zM1099 665h1v1h-1zM1100 665h1v1h-1zM1101 665h1v1h-1zM1102 665h1v1h-1zM1103 665h1v1h-1zM1104 664h1v1h-1zM1105 664h1v1h-1zM1106 664h1v1h-1zM1107 663h1v1h-1zM1108 663h1v1h-1zM1109 662h1v1h-1zM1110 662h1v1h-1zM1111 661h1v1h-1zM1112 661h1v1h-1zM1113 660h1v1h-1zM1114 660h1v1h-1zM1115 659h1v1h-1zM1116 659h1v1h-1zM1117 658h1v1h-1zM1118 657h1v1h-1zM1119 657h1v1h-1zM1120 656h1v1h-1zM1121 655h1v1h-1zM1122 654h1v1h-1zM1123 653h1v1h-1zM1124 653h1v1h-1zM1125 652h1v1h-1zM1126 651h1v1h-1zM1127 650h1v1h-1zM1128 649h1v1h-1zM1129 648h1v1h-1zM1130 648h1v1h-1zM1131 647h1v1h-1zM1132 646h1v1h-1zM1133 645h1v1h-1zM1134 644h1v1h-1zM1135 643h1v1h-1zM1136 642h1v1h-1zM1137 641h1v1h-1zM1138 640h1v1h-1zM1139 639h1v1h-1zM1140 638h1v1h-1zM1141 637h1v1h-1zM1142 637h1v1h-1zM1143 636h1v1h-1zM1144 635h1v1h-1zM1145 634h1v1h-1zM1146 634h1v1h-1zM1147 633h1v1h-1zM1148 633h1v1h-1zM1149 632h1v1h-1zM1150 632h1v1h-1zM1151 632h1v1h-1zM1152 632h1v1h-1zM1153 633h1v1h-1zM1154 633h1v1h-1zM1155 633h1v1h-1zM1156 633h1v1h-1zM1157 633h1v1h-1zM1158 633h1v1h-1zM1159 633h1v1h-1zM1160 633h1v1h-1zM1161 633h1v1h-1zM1162 633h1v1h-1zM1163 634h1v1h-1zM1164 635h1v1h-1zM1165 636h1v1h-1zM1166 636h1v1h-1zM1167 637h1v1h-1zM1168 638h1v1h-1zM1169 639h1v1h-1zM1170 639h1v1h-1zM1171 640h1v1h-1zM1172 641h1v1h-1zM1173 641h1v1h-1zM1174 642h1v1h-1zM1175 643h1v1h-1zM1176 643h1v1h-1zM1177 644h1v1h-1zM1178 645h1v1h-1zM1179 645h1v1h-1zM1180 646h1v1h-1zM1181 647h1v1h-1zM1182 647h1v1h-1zM1183 648h1v1h-1zM1184 649h1v1h-1zM1185 649h1v1h-1zM1186 650h1v1h-1zM1187 651h1v1h-1zM1188 652h1v1h-1zM1189 653h1v1h-1zM1190 653h1v1h-1zM1191 654h1v1h-1zM1192 655h1v1h-1zM1193 656h1v1h-1zM1194 657h1v1h-1zM1195 658h1v2h-1zM1196 660h1v1h-1zM1197 661h1v1h-1zM1198 662h1v1h-1zM1199 663h1v1h-1zM1200 664h1v2h-1zM1201 666h1v1h-1zM1202 667h1v1h-1zM1203 668h1v2h-1zM1204 670h1v1h-1zM1205 671h1v1h-1zM1206 672h1v1h-1zM1207 673h1v1h-1zM1208 673h1v1h-1zM1209 674h1v1h-1zM1210 675h1v1h-1zM1211 676h1v1h-1zM1212 677h1v1h-1zM1213 678h1v2h-1zM1214 680h1v1h-1zM1215 681h1v1h-1zM1216 682h1v1h-1zM1217 683h1v1h-1zM1218 683h1v1h-1zM1219 684h1v1h-1zM1220 685h1v1h-1zM1221 685h1v1h-1zM1222 686h1v1h-1zM1223 686h1v1h-1zM1224 686h1v1h-1zM1225 686h1v1h-1zM1226 686h1v1h-1zM1227 686h1v1h-1zM1228 686h1v1h-1zM1229 685h1v1h-1zM1230 685h1v1h-1zM1231 684h1v1h-1zM1232 683h1v1h-1zM1233 683h1v1h-1zM1234 682h1v1h-1zM1235 681h1v1h-1zM1236 681h1v1h-1zM1237 680h1v1h-1zM1238 680h1v1h-1zM1239 679h1v1h-1zM1240 679h1v1h-1zM1241 679h1v1h-1zM1242 679h1v1h-1zM1243 678h1v1h-1zM1244 678h1v1h-1zM1245 678h1v1h-1zM1246 678h1v1h-1zM1247 678h1v1h-1zM1248 678h1v1h-1zM1249 678h1v1h-1zM1250 678h1v1h-1zM1251 678h1v1h-1zM1252 678h1v1h-1zM1253 679h1v2h-1zM1254 681h1v1h-1zM1255 682h1v2h-1zM1256 684h1v1h-1zM1257 685h1v2h-1zM1258 687h1v1h-1zM1259 688h1v2h-1zM1260 690h1v1h-1zM1261 691h1v2h-1zM1262 693h1v1h-1zM1263 694h1v2h-1zM1264 696h1v2h-1zM1265 698h1v2h-1zM1266 700h1v3h-1zM1267 703h1v2h-1zM1268 705h1v3h-1zM1269 708h1v2h-1zM1270 710h1v2h-1zM1271 712h1v2h-1zM1272 714h1v2h-1zM1273 716h1v2h-1zM1274 718h1v2h-1zM1275 720h1v2h-1zM1276 722h1v1h-1zM1277 722h1v1h-1zM1278 722h1v1h-1zM1279 721h1v1h-1zM1280 721h1v1h-1zM1281 721h1v1h-1zM1282 721h1v1h-1z"/>
<text x="87" y="24.7" font-size="12" fill="#e8e8e8" text-anchor="end">1.2027</text>
<text x="1316" y="24.7" font-size="12" fill="#e8e8e8">1.2027</text>
<text x="87" y="78.7" font-size="12" fill="#e8e8e8" text-anchor="end">1.1829</text>
<text x="1316" y="78.7" font-size="12" fill="#e8e8e8">1.1829</text>
<text x="87" y="132.7" font-size="12" fill="#e8e8e8" text-anchor="end">1.1631</text>
<text x="1316" y="132.7" font-size="12" fill="#e8e8e8">1.1631</text>
<text x="87" y="186.7" font-size="12" fill="#e8e8e8" text-anchor="end">1.1433</text>
<text x="1316" y="186.7" font-size="12" fill="#e8e8e8">1.1433</text>
<text x="87" y="240.7" font-size="12" fill="#e8e8e8" text-anchor="end">1.1235</text>
<text x="1316" y="240.7" font-size="12" fill="#e8e8e8">1.1235</text>
<text x="87" y="294.7" font-size="12" fill="#e8e8e8" text-anchor="end">1.1037</text>
<text x="1316" y="294.7" font-size="12" fill="#e8e8e8">1.1037</text>
<text x="87" y="348.7" font-size="12" fill="#e8e8e8" text-anchor="end">1.0839</text>
<text x="1316" y="348.7" font-size="12" fill="#e8e8e8">1.0839</text>
<text x="87" y="402.7" font-size="12" fill="#e8e8e8" text-anchor="end">1.0641</text>
<text x="1316" y="402.7" font-size="12" fill="#e8e8e8">1.0641</text>
<text x="87" y="456.7" font-size="12" fill="#e8e8e8" text-anchor="end">1.0443</text>
<text x="1316" y="456.7" font-size="12" fill="#e8e8e8">1.0443</text>
<text x="87" y="510.7" font-size="12" fill="#e8e8e8" text-anchor="end">1.0245</text>
<text x="1316" y="510.7" font-size="12" fill="#e8e8e8">1.0245</text>
<text x="87" y="587.8" font-size="12" fill="#e8e8e8" text-anchor="end">0.0182</text>
<text x="1316" y="587.8" font-size="12" fill="#e8e8e8">0.0182</text>
<text x="87" y="611.8" font-size="12" fill="#e8e8e8" text-anchor="end">0.0145</text>
<text x="1316" y="611.8" font-size="12" fill="#e8e8e8">0.0145</text>
<text x="87" y="636.8" font-size="12" fill="#e8e8e8" text-anchor="end">0.0108</text>
<text x="1316" y="636.8" font-size="12" fill="#e8e8e8">0.0108</text>
<text x="87" y="661.8" font-size="12" fill="#e8e8e8" text-anchor="end">0.0072</text>
<text x="1316" y="661.8" font-size="12" fill="#e8e8e8">0.0072</text>
<text x="87" y="686.8" font-size="12" fill="#e8e8e8" text-anchor="end">0.0035</text>
<text x="1316" y="686.8" font-size="12" fill="#e8e8e8">0.0035</text>
<text x="87" y="711.8" font-size="12" fill="#e8e8e8" text-anchor="end">-0.0001</text>
<text x="1316" y="711.8" font-size="12" fill="#e8e8e8">-0.0001</text>
<text x="87" y="736.8" font-size="12" fill="#e8e8e8" text-anchor="end">-0.0038</text>
<text x="1316" y="736.8" font-size="12" fill="#e8e8e8">-0.0038</text>
<text x="87" y="761.8" font-size="12" fill="#e8e8e8" text-anchor="end">-0.0074</text>
<text x="1316" y="761.8" font-size="12" fill="#e8e8e8">-0.0074</text>
<text x="92" y="14" font-size="12" fill="#e8e8e8">欧元美元</text>
<g fill="#ff6a00" font-size="13"><text x="139" y="15" stroke="#ff6a00" stroke-width="0.8">【</text><text x="152" y="15">日</text><text x="163.5" y="15">线</text><text x="175.5" y="15" stroke="#ff6a00" stroke-width="0.8">】</text></g>
<g stroke="#ff6a00" fill="none" stroke-width="1"><circle cx="193.5" cy="11.5" r="4"/><line x1="189.5" y1="11.5" x2="197.5" y2="11.5"/><line x1="193.5" y1="7.5" x2="193.5" y2="15.5"/></g>
<text x="142" y="317" font-size="12" font-weight="bold" fill="#e8505c" textLength="37.5">1.0936</text>
<text x="1149.5" y="73" font-size="12" font-weight="bold" fill="#e8505c" textLength="37.5">1.1829</text>
<text x="424" y="539" font-size="12" font-weight="bold" fill="#5bbf8c" textLength="37.5">1.0177</text>
<g shape-rendering="crispEdges" fill="#e0e0e0"><rect x="134" y="320" width="7" height="1"/><rect x="136" y="318" width="1" height="5"/></g>
<g shape-rendering="crispEdges" fill="#e0e0e0"><rect x="1142" y="76" width="7" height="1"/><rect x="1144" y="74" width="1" height="5"/></g>
<g shape-rendering="crispEdges" fill="#e0e0e0"><rect x="416" y="527" width="7" height="1"/><rect x="418" y="525" width="1" height="5"/></g>
<rect x="1312.5" y="140.5" width="68" height="17" fill="#000" stroke="#f0a030" stroke-width="1"/>
<text x="1316" y="153.5" font-size="12" fill="#f0a030">1.1592</text>
<rect x="1372" y="132" width="8" height="8" fill="#000"/>
<path d="M1372 136 L1376 132 L1380 136 Z M1372 140 L1376 136 L1380 140 Z" fill="#f0a030"/>
<text x="92.5" y="577" font-size="12" fill="#e8e8e8" textLength="160.5">MACD(26,12,9) DIFF:-0.0020</text>
<text x="261" y="577" font-size="12" fill="#d8d800">DEA:0.0012</text>
<text x="334.5" y="577" font-size="12" fill="#e040e0" textLength="81.5">MACD:-0.0063</text>
<g shape-rendering="crispEdges"><rect x="25" y="567" width="8" height="6" fill="#000"/><rect x="26" y="566" width="6" height="8" fill="#000"/><rect x="26" y="568" width="6" height="4" fill="#fff"/><rect x="27" y="567" width="4" height="6" fill="#fff"/><rect x="27" y="569" width="4" height="2" fill="#f00"/><rect x="28" y="568" width="2" height="4" fill="#f00"/><rect x="28" y="563" width="1" height="2" fill="#f00"/><rect x="28" y="575" width="1" height="2" fill="#f00"/><rect x="22" y="569" width="2" height="1" fill="#f00"/><rect x="34" y="569" width="2" height="1" fill="#f00"/><rect x="23" y="564" width="1" height="1" fill="#f00"/><rect x="24" y="565" width="1" height="1" fill="#f00"/><rect x="34" y="564" width="1" height="1" fill="#f00"/><rect x="33" y="565" width="1" height="1" fill="#f00"/><rect x="23" y="575" width="1" height="1" fill="#f00"/><rect x="24" y="574" width="1" height="1" fill="#f00"/><rect x="33" y="574" width="1" height="1" fill="#f00"/><rect x="34" y="575" width="1" height="1" fill="#f00"/></g>
<rect x="1313" y="739" width="67" height="16" fill="#000"/>
<text x="1315" y="751" font-size="12" fill="#f09020" textLength="42">-0.0045</text>
<text x="126" y="796" font-size="12" font-weight="bold" fill="#ffffff" textLength="44">2024/11</text>
<text x="252" y="796" font-size="12" font-weight="bold" fill="#ffffff" textLength="44">2024/12</text>
<text x="378" y="796" font-size="12" font-weight="bold" fill="#ffffff" textLength="44">2025/01</text>
<text x="510" y="796" font-size="12" font-weight="bold" fill="#ffffff" textLength="44">2025/02</text>
<text x="630" y="796" font-size="12" font-weight="bold" fill="#ffffff" textLength="44">2025/03</text>
<text x="888" y="796" font-size="12" font-weight="bold" fill="#ffffff" textLength="44">2025/05</text>
<text x="1020" y="796" font-size="12" font-weight="bold" fill="#ffffff" textLength="44">2025/06</text>
<text x="1146" y="796" font-size="12" font-weight="bold" fill="#ffffff" textLength="44">2025/07</text>
<rect x="734" y="784" width="109" height="16" fill="#000"/>
<text x="735" y="796" font-size="13" fill="#f0962a" textLength="64.5">2025/03/27</text>
<text x="804.5" y="796" font-size="12" fill="#f0962a" textLength="36">星期四</text>
<text x="32" y="798.5" font-size="13" font-weight="bold" fill="#ff6a00" stroke="#ff6a00" stroke-width="0.5">日线</text>
<path d="M65 798 L69 789.5 L73 798 Z" fill="#ff6a00"/>
<text x="1251.5" y="794.5" font-size="32" fill="#e6e8f0" textLength="102">FX678</text>
<g shape-rendering="crispEdges">
<rect x="19" y="803" width="1116" height="16" fill="#141414"/>
<rect x="20" y="803" width="39" height="15" fill="#080808"/>
<rect x="60" y="803" width="39" height="15" fill="#080808"/>
<rect x="100" y="803" width="57" height="15" fill="#ff6a00"/>
<rect x="158" y="803" width="75" height="15" fill="#080808"/>
<rect x="234" y="803" width="57" height="15" fill="#080808"/>
<rect x="292" y="803" width="57" height="15" fill="#080808"/>
<rect x="350" y="803" width="52" height="15" fill="#080808"/>
<rect x="403" y="803" width="50" height="15" fill="#080808"/>
<rect x="454" y="803" width="69" height="15" fill="#080808"/>
<rect x="524" y="803" width="45" height="15" fill="#080808"/>
<rect x="570" y="803" width="51" height="15" fill="#080808"/>
<rect x="622" y="803" width="46" height="15" fill="#080808"/>
<rect x="669" y="803" width="57" height="15" fill="#080808"/>
<rect x="727" y="803" width="51" height="15" fill="#080808"/>
<rect x="779" y="803" width="74" height="15" fill="#080808"/>
<rect x="854" y="803" width="51" height="15" fill="#080808"/>
<rect x="906" y="803" width="50" height="15" fill="#080808"/>
<rect x="957" y="803" width="51" height="15" fill="#080808"/>
<rect x="1009" y="803" width="52" height="15" fill="#080808"/>
<rect x="1062" y="803" width="46" height="15" fill="#080808"/>
<rect x="1109" y="803" width="25" height="15" fill="#080808"/>
</g>
<text x="39.5" y="815.5" font-size="12" fill="#ffffff" text-anchor="middle">指标</text>
<text x="79.5" y="815.5" font-size="12" fill="#ffffff" text-anchor="middle">模板</text>
<text x="108" y="815" font-size="12" fill="#ffffff" style="font-family:'Liberation Serif',serif" textLength="17">VIP</text>
<text x="125.5" y="815.5" font-size="12" fill="#ffffff">指标</text>
<text x="195.5" y="815" font-size="11" fill="#c8c8c8" text-anchor="middle" style="font-family:'Liberation Mono',monospace" textLength="60.0">BARUPDN_UD</text>
<text x="262.5" y="815" font-size="11" fill="#c8c8c8" text-anchor="middle" style="font-family:'Liberation Mono',monospace" textLength="42.0">BIAS_UD</text>
<text x="320.5" y="815" font-size="11" fill="#c8c8c8" text-anchor="middle" style="font-family:'Liberation Mono',monospace" textLength="42.0">BOLL_UD</text>
<text x="376.0" y="815" font-size="11" fill="#c8c8c8" text-anchor="middle" style="font-family:'Liberation Mono',monospace" textLength="36.0">CCI_UD</text>
<text x="428.0" y="815" font-size="11" fill="#c8c8c8" text-anchor="middle" style="font-family:'Liberation Mono',monospace" textLength="36.0">DMI_UD</text>
<text x="488.5" y="815" font-size="11" fill="#c8c8c8" text-anchor="middle" style="font-family:'Liberation Mono',monospace" textLength="54.0">INSIDE_UD</text>
<text x="546.5" y="815" font-size="11" fill="#c8c8c8" text-anchor="middle" style="font-family:'Liberation Mono',monospace" textLength="30.0">KD_UD</text>
<text x="595.5" y="815" font-size="11" fill="#c8c8c8" text-anchor="middle" style="font-family:'Liberation Mono',monospace" textLength="36.0">KDJ_UD</text>
<text x="645.0" y="815" font-size="11" fill="#c8c8c8" text-anchor="middle" style="font-family:'Liberation Mono',monospace" textLength="30.0">MA_UD</text>
<text x="697.5" y="815" font-size="11" fill="#c8c8c8" text-anchor="middle" style="font-family:'Liberation Mono',monospace" textLength="42.0">MACD_UD</text>
<text x="752.5" y="815" font-size="11" fill="#c8c8c8" text-anchor="middle" style="font-family:'Liberation Mono',monospace" textLength="36.0">MTM_UD</text>
<text x="816.0" y="815" font-size="11" fill="#c8c8c8" text-anchor="middle" style="font-family:'Liberation Mono',monospace" textLength="60.0">OUTSIDE_UD</text>
<text x="879.5" y="815" font-size="11" fill="#c8c8c8" text-anchor="middle" style="font-family:'Liberation Mono',monospace" textLength="36.0">PSY_UD</text>
<text x="931.0" y="815" font-size="11" fill="#c8c8c8" text-anchor="middle" style="font-family:'Liberation Mono',monospace" textLength="36.0">ROC_UD</text>
<text x="982.5" y="815" font-size="11" fill="#c8c8c8" text-anchor="middle" style="font-family:'Liberation Mono',monospace" textLength="36.0">RSI_UD</text>
<text x="1035.0" y="815" font-size="11" fill="#c8c8c8" text-anchor="middle" style="font-family:'Liberation Mono',monospace" textLength="36.0">SMA_UD</text>
<text x="1085.0" y="815" font-size="11" fill="#c8c8c8" text-anchor="middle" style="font-family:'Liberation Mono',monospace" textLength="30.0">VR_UD</text>
<text x="1121.5" y="815" font-size="11" fill="#c8c8c8" text-anchor="middle" style="font-family:'Liberation Mono',monospace" textLength="12.0">&gt;&gt;</text>
<rect x="1248" y="0" width="16" height="16" fill="#000" shape-rendering="crispEdges"/>
<rect x="1249.5" y="1.5" width="13" height="13" fill="none" stroke="#bdbdbd" stroke-width="1" shape-rendering="crispEdges"/>
<rect x="1264" y="0" width="16" height="16" fill="#000" shape-rendering="crispEdges"/>
<rect x="1265.5" y="1.5" width="13" height="13" fill="none" stroke="#bdbdbd" stroke-width="1" shape-rendering="crispEdges"/>
<rect x="1280" y="0" width="16" height="16" fill="#000" shape-rendering="crispEdges"/>
<rect x="1281.5" y="1.5" width="13" height="13" fill="none" stroke="#bdbdbd" stroke-width="1" shape-rendering="crispEdges"/>
<rect x="1296" y="0" width="16" height="16" fill="#000" shape-rendering="crispEdges"/>
<rect x="1297.5" y="1.5" width="13" height="13" fill="none" stroke="#bdbdbd" stroke-width="1" shape-rendering="crispEdges"/>
<g fill="#bdbdbd" shape-rendering="crispEdges"><rect x="1255" y="3" width="2" height="3"/><rect x="1255" y="10" width="2" height="3"/><rect x="1251" y="7" width="3" height="2"/><rect x="1258" y="7" width="3" height="2"/><rect x="1255" y="7" width="2" height="2"/></g>
<g stroke="#bdbdbd" fill="none" stroke-width="1"><line x1="1268.5" y1="3" x2="1268.5" y2="12"/><line x1="1267" y1="11.5" x2="1277" y2="11.5"/><line x1="1271.5" y1="4" x2="1271.5" y2="10"/></g><path d="M1266.5 5 L1268.5 3 L1270.5 5 Z M1275 9.5 L1277 11.5 L1275 13.5 Z M1269 9.5 L1267 11.5 L1269 13.5 Z M1266.5 11 L1268.5 13 L1270.5 11 Z M1272 7 L1275 4.5 L1275 9.5 Z" fill="#bdbdbd"/>
<g stroke="#bdbdbd" fill="none" stroke-width="1"><line x1="1284.5" y1="3" x2="1284.5" y2="12"/><line x1="1283" y1="11.5" x2="1293" y2="11.5"/></g><path d="M1282.5 5 L1284.5 3 L1286.5 5 Z M1291 9.5 L1293 11.5 L1291 13.5 Z M1285 9.5 L1283 11.5 L1285 13.5 Z M1282.5 11 L1284.5 13 L1286.5 11 Z M1287 4 L1292 7.5 L1287 11 Z" fill="#bdbdbd"/>
<g stroke="#bdbdbd" fill="none" stroke-width="1"><rect x="1299.5" y="3.5" width="3" height="9"/><line x1="1303" y1="7.5" x2="1307" y2="7.5"/></g><path d="M1306 5 L1309 7.5 L1306 10 Z M1304 6 L1302.5 7.5 L1304 9 Z" fill="#bdbdbd"/>
</svg></body></html>
